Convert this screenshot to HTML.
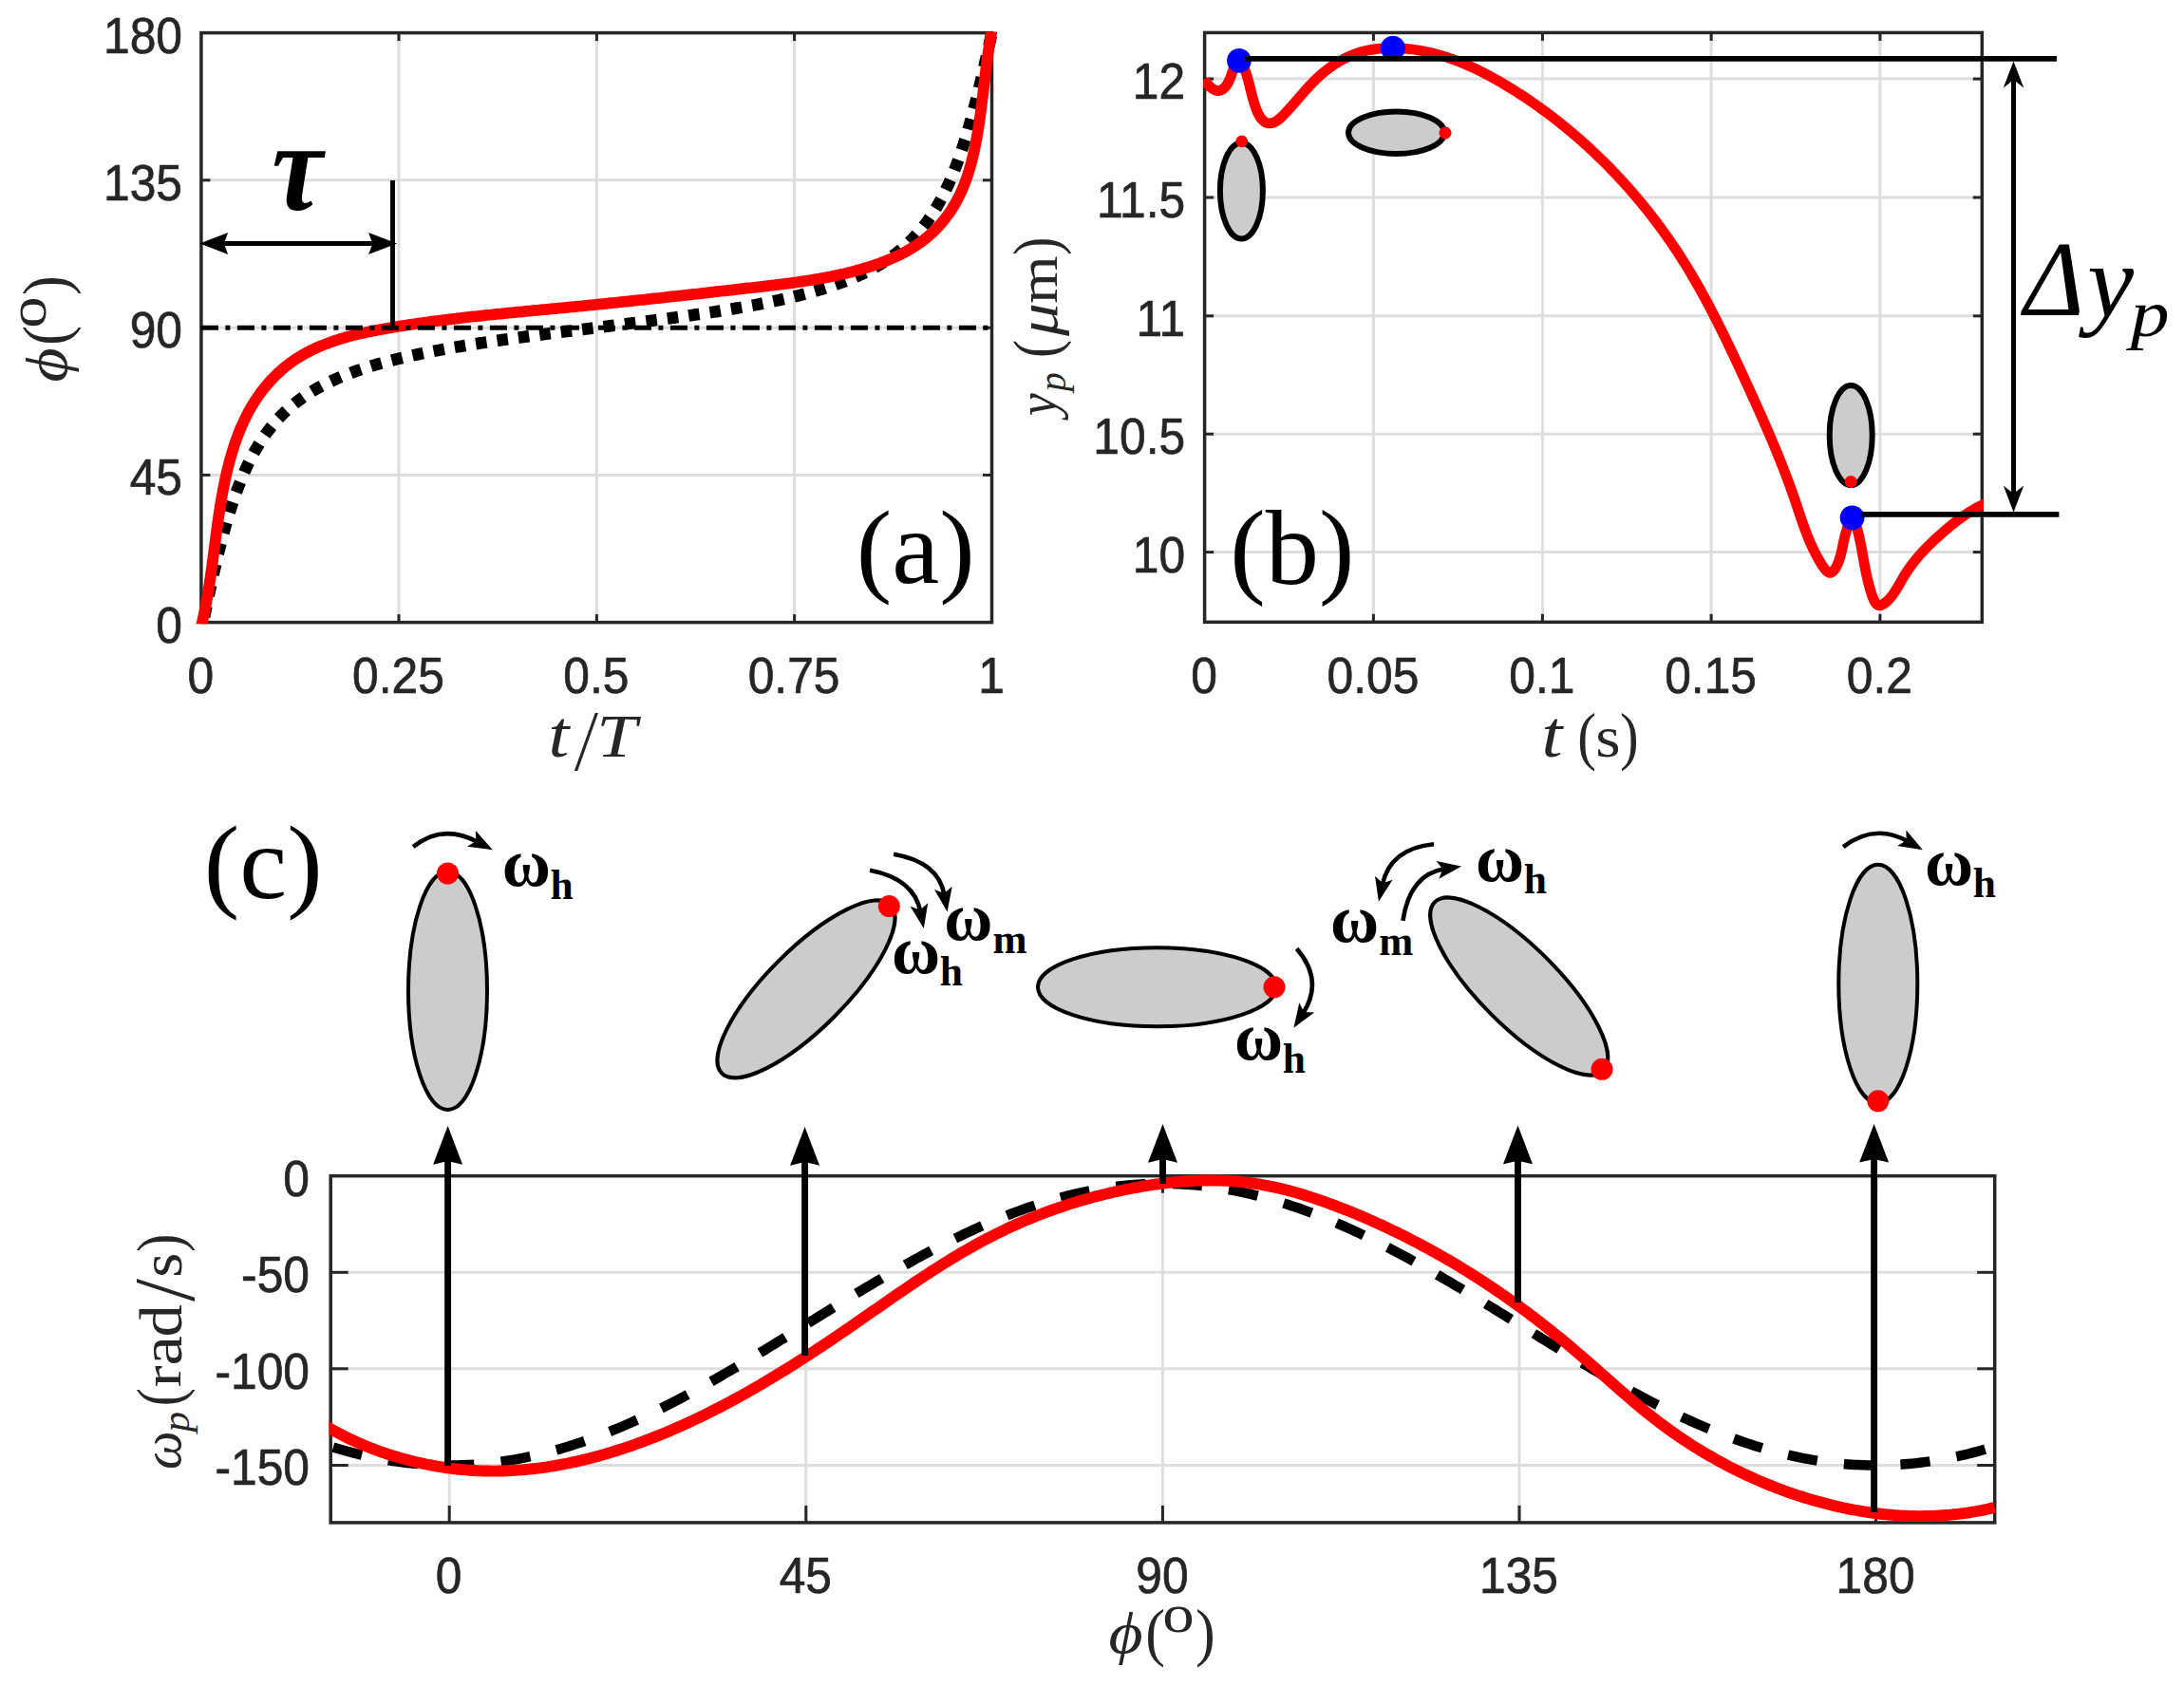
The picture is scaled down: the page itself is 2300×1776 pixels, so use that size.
<!DOCTYPE html>
<html><head><meta charset="utf-8"><title>figure</title>
<style>html,body{margin:0;padding:0;background:#fff}svg{display:block}</style></head>
<body>
<svg width="2300" height="1776" viewBox="0 0 2300 1776">
<rect width="2300" height="1776" fill="#fff"/>
<defs><clipPath id="ca"><rect x="205" y="33.4" width="845.3" height="623.9"/></clipPath><clipPath id="cb"><rect x="1266.9" y="20" width="822.2" height="637"/></clipPath><clipPath id="cc"><rect x="346.5" y="1237" width="1756" height="368.6"/></clipPath></defs>
<!-- plot a -->
<line x1="420" y1="34.6" x2="420" y2="655.6" stroke="#dedede" stroke-width="3" />
<line x1="628.4" y1="34.6" x2="628.4" y2="655.6" stroke="#dedede" stroke-width="3" />
<line x1="836.6" y1="34.6" x2="836.6" y2="655.6" stroke="#dedede" stroke-width="3" />
<line x1="211.9" y1="189.8" x2="1044.5" y2="189.8" stroke="#dedede" stroke-width="3" />
<line x1="211.9" y1="345.3" x2="1044.5" y2="345.3" stroke="#dedede" stroke-width="3" />
<line x1="211.9" y1="500.4" x2="1044.5" y2="500.4" stroke="#dedede" stroke-width="3" />
<line x1="420" y1="655.6" x2="420" y2="647.1" stroke="#262626" stroke-width="3" />
<line x1="420" y1="34.6" x2="420" y2="43.1" stroke="#262626" stroke-width="3" />
<line x1="628.4" y1="655.6" x2="628.4" y2="647.1" stroke="#262626" stroke-width="3" />
<line x1="628.4" y1="34.6" x2="628.4" y2="43.1" stroke="#262626" stroke-width="3" />
<line x1="836.6" y1="655.6" x2="836.6" y2="647.1" stroke="#262626" stroke-width="3" />
<line x1="836.6" y1="34.6" x2="836.6" y2="43.1" stroke="#262626" stroke-width="3" />
<line x1="211.9" y1="189.8" x2="221.4" y2="189.8" stroke="#262626" stroke-width="3" />
<line x1="1044.5" y1="189.8" x2="1035" y2="189.8" stroke="#262626" stroke-width="3" />
<line x1="211.9" y1="345.3" x2="221.4" y2="345.3" stroke="#262626" stroke-width="3" />
<line x1="1044.5" y1="345.3" x2="1035" y2="345.3" stroke="#262626" stroke-width="3" />
<line x1="211.9" y1="500.4" x2="221.4" y2="500.4" stroke="#262626" stroke-width="3" />
<line x1="1044.5" y1="500.4" x2="1035" y2="500.4" stroke="#262626" stroke-width="3" />
<rect x="211.9" y="34.6" width="832.6" height="621" fill="none" stroke="#262626" stroke-width="3.5"/>
<g clip-path="url(#ca)">
<path d="M213.9 655.6 L215.18 649.38 L216.47 643.18 L217.76 636.99 L219.06 630.85 L220.36 624.74 L221.67 618.7 L222.98 612.72 L224.3 606.82 L225.62 601.01 L226.95 595.28 L228.27 589.66 L229.61 584.14 L230.94 578.73 L232.28 573.44 L233.62 568.27 L234.96 563.21 L236.31 558.28 L237.65 553.47 L239 548.79 L240.36 544.23 L241.71 539.8 L243.07 535.49 L244.43 531.3 L245.79 527.23 L247.15 523.28 L248.51 519.45 L249.87 515.73 L251.24 512.12 L252.61 508.62 L253.98 505.22 L255.35 501.92 L256.72 498.73 L258.09 495.63 L259.46 492.62 L260.83 489.71 L262.21 486.88 L263.58 484.13 L264.96 481.47 L266.34 478.89 L267.72 476.38 L269.09 473.95 L270.47 471.58 L271.85 469.29 L273.23 467.06 L274.61 464.89 L275.99 462.79 L277.38 460.74 L278.76 458.75 L280.14 456.82 L281.52 454.94 L282.91 453.11 L284.29 451.33 L285.67 449.59 L287.06 447.9 L288.44 446.26 L289.83 444.66 L291.21 443.1 L292.6 441.57 L293.98 440.09 L295.37 438.64 L296.76 437.23 L298.14 435.85 L299.53 434.51 L300.92 433.2 L302.3 431.92 L303.69 430.67 L305.08 429.44 L306.46 428.25 L307.85 427.08 L309.24 425.94 L310.63 424.82 L312.02 423.73 L313.4 422.66 L314.79 421.62 L316.18 420.59 L317.57 419.59 L318.96 418.61 L320.34 417.65 L321.73 416.7 L323.12 415.78 L324.51 414.88 L325.9 413.99 L327.29 413.12 L328.68 412.27 L330.07 411.43 L331.46 410.61 L332.84 409.81 L334.23 409.01 L335.62 408.24 L337.01 407.48 L338.4 406.73 L339.79 405.99 L341.18 405.27 L342.57 404.56 L343.96 403.86 L345.35 403.18 L346.74 402.5 L348.13 401.84 L349.52 401.19 L350.91 400.55 L352.3 399.91 L353.69 399.29 L355.07 398.68 L356.46 398.08 L357.85 397.49 L359.24 396.91 L360.63 396.33 L362.02 395.77 L363.41 395.21 L364.8 394.66 L366.19 394.12 L367.58 393.58 L368.97 393.06 L370.36 392.54 L371.75 392.03 L373.14 391.53 L374.53 391.03 L375.92 390.54 L377.31 390.06 L378.7 389.58 L380.09 389.11 L381.48 388.64 L382.87 388.19 L384.26 387.73 L385.65 387.29 L387.04 386.84 L388.43 386.41 L389.82 385.98 L391.21 385.55 L392.6 385.13 L393.99 384.72 L395.38 384.31 L396.77 383.9 L398.16 383.5 L399.55 383.11 L400.94 382.71 L402.33 382.33 L403.72 381.95 L405.11 381.57 L406.5 381.19 L407.89 380.82 L409.28 380.46 L410.67 380.09 L412.06 379.74 L413.45 379.38 L414.84 379.03 L416.23 378.68 L417.62 378.34 L419.01 378 L420.4 377.66 L421.79 377.33 L423.18 377 L424.57 376.67 L425.96 376.35 L427.35 376.02 L428.74 375.71 L430.13 375.39 L431.52 375.08 L432.91 374.77 L434.3 374.46 L435.69 374.16 L437.08 373.86 L438.47 373.56 L439.86 373.26 L441.25 372.97 L442.64 372.68 L444.03 372.39 L445.42 372.1 L446.81 371.82 L448.2 371.54 L449.59 371.26 L450.98 370.98 L452.37 370.71 L453.76 370.44 L455.15 370.16 L456.54 369.9 L457.93 369.63 L459.32 369.37 L460.71 369.1 L462.1 368.84 L463.49 368.58 L464.88 368.33 L466.27 368.07 L467.66 367.82 L469.05 367.57 L470.44 367.32 L471.83 367.07 L473.22 366.82 L474.61 366.58 L476 366.34 L477.39 366.09 L478.78 365.85 L480.17 365.62 L481.56 365.38 L482.95 365.14 L484.34 364.91 L485.73 364.68 L487.12 364.44 L488.51 364.21 L489.9 363.99 L491.29 363.76 L492.68 363.53 L494.07 363.31 L495.46 363.09 L496.85 362.86 L498.24 362.64 L499.63 362.42 L501.02 362.2 L502.41 361.99 L503.8 361.77 L505.19 361.56 L506.58 361.34 L507.97 361.13 L509.36 360.92 L510.75 360.71 L512.14 360.5 L513.53 360.29 L514.92 360.08 L516.31 359.87 L517.7 359.67 L519.09 359.46 L520.48 359.26 L521.87 359.05 L523.26 358.85 L524.65 358.65 L526.04 358.45 L527.43 358.25 L528.82 358.05 L530.21 357.85 L531.6 357.65 L532.99 357.46 L534.38 357.26 L535.77 357.07 L537.16 356.87 L538.55 356.68 L539.94 356.48 L541.33 356.29 L542.72 356.1 L544.11 355.91 L545.5 355.72 L546.89 355.53 L548.28 355.34 L549.67 355.15 L551.06 354.96 L552.45 354.77 L553.84 354.59 L555.23 354.4 L556.62 354.22 L558.01 354.03 L559.4 353.84 L560.79 353.66 L562.18 353.48 L563.57 353.29 L564.96 353.11 L566.35 352.93 L567.74 352.75 L569.13 352.56 L570.52 352.38 L571.91 352.2 L573.3 352.02 L574.69 351.84 L576.08 351.66 L577.47 351.48 L578.86 351.3 L580.25 351.13 L581.64 350.95 L583.03 350.77 L584.42 350.59 L585.81 350.41 L587.2 350.24 L588.59 350.06 L589.98 349.88 L591.37 349.71 L592.76 349.53 L594.15 349.36 L595.54 349.18 L596.93 349.01 L598.32 348.83 L599.71 348.66 L601.1 348.48 L602.49 348.31 L603.88 348.13 L605.27 347.96 L606.66 347.78 L608.05 347.61 L609.44 347.44 L610.83 347.26 L612.22 347.09 L613.61 346.92 L615 346.74 L616.39 346.57 L617.78 346.4 L619.17 346.22 L620.56 346.05 L621.95 345.88 L623.34 345.7 L624.73 345.53 L626.12 345.36 L627.51 345.19 L628.89 345.01 L630.28 344.84 L631.67 344.67 L633.06 344.5 L634.45 344.32 L635.84 344.15 L637.23 343.98 L638.62 343.8 L640.01 343.63 L641.4 343.46 L642.79 343.28 L644.18 343.11 L645.57 342.94 L646.96 342.76 L648.35 342.59 L649.74 342.42 L651.13 342.24 L652.52 342.07 L653.91 341.89 L655.3 341.72 L656.69 341.54 L658.08 341.37 L659.47 341.19 L660.86 341.02 L662.25 340.84 L663.64 340.67 L665.03 340.49 L666.42 340.32 L667.81 340.14 L669.2 339.96 L670.59 339.79 L671.98 339.61 L673.37 339.43 L674.76 339.25 L676.15 339.07 L677.54 338.9 L678.93 338.72 L680.32 338.54 L681.71 338.36 L683.1 338.18 L684.49 338 L685.88 337.82 L687.27 337.64 L688.66 337.45 L690.05 337.27 L691.44 337.09 L692.83 336.91 L694.22 336.72 L695.61 336.54 L697 336.36 L698.39 336.17 L699.78 335.98 L701.17 335.8 L702.56 335.61 L703.95 335.43 L705.34 335.24 L706.73 335.05 L708.12 334.86 L709.51 334.67 L710.9 334.48 L712.29 334.29 L713.68 334.1 L715.07 333.91 L716.46 333.72 L717.85 333.52 L719.24 333.33 L720.63 333.13 L722.02 332.94 L723.41 332.74 L724.8 332.55 L726.19 332.35 L727.58 332.15 L728.97 331.95 L730.36 331.75 L731.75 331.55 L733.14 331.35 L734.53 331.15 L735.92 330.94 L737.31 330.74 L738.7 330.53 L740.09 330.33 L741.48 330.12 L742.87 329.91 L744.26 329.7 L745.65 329.49 L747.04 329.28 L748.43 329.07 L749.82 328.86 L751.21 328.64 L752.6 328.43 L753.99 328.21 L755.38 328 L756.77 327.78 L758.16 327.56 L759.55 327.34 L760.94 327.11 L762.33 326.89 L763.72 326.67 L765.11 326.44 L766.5 326.21 L767.89 325.99 L769.28 325.76 L770.67 325.52 L772.06 325.29 L773.45 325.06 L774.84 324.82 L776.23 324.58 L777.62 324.35 L779.01 324.11 L780.4 323.86 L781.79 323.62 L783.18 323.38 L784.57 323.13 L785.96 322.88 L787.35 322.63 L788.74 322.38 L790.13 322.13 L791.52 321.87 L792.91 321.62 L794.3 321.36 L795.69 321.1 L797.08 320.83 L798.47 320.57 L799.86 320.3 L801.25 320.04 L802.64 319.76 L804.03 319.49 L805.42 319.22 L806.81 318.94 L808.2 318.66 L809.59 318.38 L810.98 318.1 L812.37 317.81 L813.76 317.52 L815.15 317.23 L816.54 316.94 L817.93 316.64 L819.32 316.34 L820.71 316.04 L822.1 315.74 L823.49 315.43 L824.88 315.12 L826.27 314.81 L827.66 314.49 L829.05 314.18 L830.44 313.85 L831.83 313.53 L833.22 313.2 L834.61 312.87 L836 312.54 L837.39 312.2 L838.78 311.86 L840.17 311.52 L841.56 311.17 L842.95 310.82 L844.34 310.46 L845.73 310.11 L847.12 309.74 L848.51 309.38 L849.9 309.01 L851.29 308.63 L852.68 308.25 L854.07 307.87 L855.46 307.49 L856.85 307.09 L858.24 306.7 L859.63 306.3 L861.02 305.89 L862.41 305.48 L863.8 305.07 L865.19 304.65 L866.58 304.22 L867.97 303.79 L869.36 303.36 L870.75 302.91 L872.14 302.47 L873.53 302.01 L874.92 301.56 L876.31 301.09 L877.7 300.62 L879.09 300.14 L880.48 299.66 L881.87 299.17 L883.26 298.67 L884.65 298.17 L886.04 297.66 L887.43 297.14 L888.82 296.62 L890.21 296.08 L891.6 295.54 L892.99 294.99 L894.38 294.43 L895.77 293.87 L897.16 293.29 L898.55 292.71 L899.94 292.12 L901.33 291.52 L902.72 290.91 L904.11 290.29 L905.5 289.65 L906.89 289.01 L908.28 288.36 L909.67 287.7 L911.06 287.02 L912.45 286.34 L913.84 285.64 L915.23 284.93 L916.62 284.21 L918.01 283.47 L919.4 282.72 L920.79 281.96 L922.18 281.19 L923.57 280.39 L924.96 279.59 L926.35 278.77 L927.74 277.93 L929.13 277.08 L930.52 276.21 L931.91 275.32 L933.3 274.42 L934.69 273.5 L936.08 272.55 L937.47 271.59 L938.86 270.61 L940.25 269.61 L941.64 268.58 L943.03 267.54 L944.42 266.47 L945.81 265.38 L947.2 264.26 L948.59 263.12 L949.98 261.95 L951.37 260.76 L952.76 259.53 L954.15 258.28 L955.54 257 L956.93 255.69 L958.32 254.35 L959.71 252.97 L961.1 251.56 L962.49 250.11 L963.88 248.63 L965.27 247.1 L966.66 245.54 L968.05 243.94 L969.44 242.3 L970.83 240.61 L972.22 238.87 L973.61 237.09 L975 235.26 L976.39 233.38 L977.78 231.45 L979.17 229.46 L980.56 227.41 L981.95 225.31 L983.34 223.14 L984.73 220.91 L986.12 218.62 L987.51 216.25 L988.9 213.82 L990.29 211.31 L991.68 208.73 L993.07 206.07 L994.46 203.32 L995.85 200.49 L997.24 197.58 L998.63 194.57 L1000.02 191.47 L1001.41 188.28 L1002.8 184.98 L1004.19 181.58 L1005.58 178.08 L1006.97 174.47 L1008.36 170.75 L1009.75 166.92 L1011.14 162.97 L1012.53 158.9 L1013.92 154.71 L1015.31 150.4 L1016.7 145.97 L1018.09 141.41 L1019.48 136.73 L1020.87 131.92 L1022.26 126.99 L1023.65 121.93 L1025.04 116.76 L1026.43 111.47 L1027.82 106.06 L1029.21 100.54 L1030.6 94.92 L1031.99 89.19 L1033.38 83.38 L1034.77 77.48 L1036.16 71.5 L1037.55 65.46 L1038.94 59.35 L1040.33 53.21 L1041.72 47.02 L1043.11 40.82 L1044.5 34.6" fill="none" stroke="#000" stroke-width="12.6" stroke-dasharray="11.5 11.1" stroke-dashoffset="-6"/>
<path d="M210.58 664.94 L211.1 662.92 L211.61 660.9 L212.11 658.88 L212.59 656.85 L213.07 654.83 L213.53 652.81 L213.98 650.78 L214.43 648.75 L214.86 646.73 L215.28 644.7 L215.7 642.67 L216.1 640.64 L216.5 638.61 L216.89 636.58 L217.27 634.55 L217.64 632.52 L218.01 630.49 L218.36 628.45 L218.71 626.42 L219.06 624.39 L219.4 622.35 L219.73 620.32 L220.05 618.28 L220.37 616.25 L220.68 614.21 L220.99 612.17 L221.3 610.14 L221.6 608.1 L221.89 606.06 L222.18 604.02 L222.47 601.98 L222.75 599.94 L223.04 597.9 L223.31 595.86 L223.59 593.82 L223.86 591.78 L224.13 589.74 L224.4 587.7 L224.67 585.66 L224.94 583.62 L225.2 581.57 L225.47 579.53 L225.73 577.49 L226 575.45 L226.26 573.4 L226.53 571.36 L226.8 569.32 L227.06 567.27 L227.33 565.23 L227.6 563.18 L227.87 561.14 L228.15 559.1 L228.43 557.05 L228.71 555.01 L228.99 552.96 L229.27 550.92 L229.56 548.87 L229.86 546.83 L230.15 544.78 L230.46 542.74 L230.76 540.69 L231.08 538.65 L231.39 536.6 L231.71 534.56 L232.04 532.52 L232.38 530.47 L232.72 528.43 L233.06 526.38 L233.42 524.34 L233.78 522.29 L234.15 520.25 L234.53 518.21 L234.91 516.16 L235.3 514.12 L235.71 512.08 L236.12 510.03 L236.54 507.99 L236.97 505.95 L237.4 503.9 L237.85 501.86 L238.31 499.82 L238.78 497.78 L239.26 495.74 L239.76 493.7 L240.26 491.66 L240.77 489.62 L241.3 487.59 L241.84 485.56 L242.39 483.53 L242.96 481.5 L243.54 479.48 L244.13 477.46 L244.73 475.45 L245.35 473.44 L245.99 471.44 L246.64 469.44 L247.3 467.45 L247.98 465.47 L248.67 463.49 L249.38 461.52 L250.11 459.55 L250.85 457.59 L251.61 455.65 L252.39 453.71 L253.18 451.78 L253.99 449.85 L254.82 447.94 L255.67 446.04 L256.54 444.15 L257.42 442.27 L258.33 440.4 L259.25 438.54 L260.2 436.69 L261.16 434.86 L262.14 433.04 L263.15 431.23 L264.17 429.44 L265.22 427.65 L266.29 425.89 L267.37 424.13 L268.48 422.4 L269.61 420.67 L270.76 418.97 L271.93 417.27 L273.12 415.6 L274.33 413.94 L275.56 412.3 L276.81 410.67 L278.07 409.07 L279.36 407.48 L280.67 405.91 L281.99 404.35 L283.34 402.82 L284.7 401.31 L286.08 399.81 L287.48 398.34 L288.9 396.89 L290.34 395.45 L291.8 394.04 L293.27 392.65 L294.76 391.29 L296.27 389.94 L297.8 388.62 L299.34 387.32 L300.9 386.04 L302.48 384.79 L304.07 383.56 L305.69 382.35 L307.31 381.17 L308.96 380.02 L310.62 378.89 L312.3 377.78 L313.99 376.7 L315.7 375.64 L317.42 374.61 L319.16 373.6 L320.91 372.61 L322.68 371.64 L324.46 370.7 L326.26 369.77 L328.06 368.87 L329.88 367.99 L331.72 367.13 L333.56 366.29 L335.42 365.47 L337.29 364.66 L339.17 363.88 L341.06 363.12 L342.96 362.37 L344.87 361.64 L346.8 360.93 L348.73 360.23 L350.67 359.56 L352.62 358.9 L354.58 358.25 L356.55 357.62 L358.53 357 L360.51 356.4 L362.5 355.82 L364.5 355.25 L366.51 354.69 L368.53 354.15 L370.55 353.61 L372.57 353.09 L374.6 352.59 L376.64 352.09 L378.68 351.61 L380.73 351.14 L382.78 350.68 L384.84 350.22 L386.9 349.78 L388.97 349.35 L391.03 348.93 L393.1 348.52 L395.18 348.11 L397.25 347.71 L399.33 347.33 L401.41 346.94 L403.49 346.57 L405.58 346.2 L407.66 345.84 L409.74 345.48 L411.83 345.13 L413.91 344.79 L416 344.45 L418.08 344.11 L420.16 343.78 L422.24 343.45 L424.32 343.13 L426.4 342.81 L428.48 342.49 L430.56 342.18 L432.63 341.87 L434.71 341.56 L436.78 341.26 L438.85 340.96 L440.93 340.66 L443 340.37 L445.07 340.08 L447.13 339.79 L449.2 339.51 L451.27 339.23 L453.33 338.95 L455.4 338.67 L457.46 338.4 L459.53 338.13 L461.59 337.87 L463.65 337.6 L465.71 337.34 L467.77 337.08 L469.83 336.83 L471.89 336.57 L473.95 336.32 L476 336.07 L478.06 335.83 L480.11 335.59 L482.17 335.34 L484.22 335.1 L486.28 334.87 L488.33 334.63 L490.38 334.4 L492.43 334.17 L494.49 333.94 L496.54 333.71 L498.59 333.49 L500.64 333.27 L502.69 333.04 L504.74 332.82 L506.78 332.61 L508.83 332.39 L510.88 332.17 L512.93 331.96 L514.97 331.75 L517.02 331.54 L519.07 331.33 L521.11 331.12 L523.16 330.92 L525.2 330.71 L527.25 330.51 L529.29 330.3 L531.34 330.1 L533.38 329.9 L535.42 329.7 L537.47 329.5 L539.51 329.3 L541.56 329.1 L543.6 328.91 L545.64 328.71 L547.69 328.52 L549.73 328.32 L551.77 328.13 L553.81 327.93 L555.86 327.74 L557.9 327.55 L559.94 327.35 L561.99 327.16 L564.03 326.97 L566.07 326.78 L568.12 326.58 L570.16 326.39 L572.2 326.2 L574.25 326.01 L576.29 325.82 L578.34 325.63 L580.38 325.43 L582.43 325.24 L584.47 325.05 L586.52 324.86 L588.56 324.66 L590.61 324.47 L592.65 324.27 L594.7 324.08 L596.75 323.88 L598.79 323.69 L600.84 323.49 L602.89 323.3 L604.94 323.1 L606.98 322.9 L609.03 322.7 L611.08 322.5 L613.13 322.3 L615.18 322.1 L617.23 321.9 L619.28 321.69 L621.33 321.49 L623.39 321.29 L625.44 321.08 L627.49 320.88 L629.54 320.67 L631.59 320.46 L633.65 320.26 L635.7 320.05 L637.75 319.84 L639.81 319.63 L641.86 319.42 L643.92 319.21 L645.97 319 L648.03 318.79 L650.08 318.58 L652.14 318.37 L654.19 318.16 L656.25 317.94 L658.31 317.73 L660.36 317.52 L662.42 317.3 L664.48 317.09 L666.53 316.87 L668.59 316.66 L670.65 316.44 L672.71 316.22 L674.76 316 L676.82 315.79 L678.88 315.57 L680.94 315.35 L683 315.13 L685.06 314.91 L687.12 314.69 L689.18 314.47 L691.23 314.25 L693.29 314.02 L695.35 313.8 L697.41 313.58 L699.47 313.36 L701.53 313.13 L703.59 312.91 L705.65 312.69 L707.72 312.46 L709.78 312.24 L711.84 312.01 L713.9 311.79 L715.96 311.56 L718.02 311.33 L720.08 311.11 L722.14 310.88 L724.2 310.65 L726.26 310.43 L728.33 310.2 L730.39 309.97 L732.45 309.74 L734.51 309.51 L736.57 309.28 L738.63 309.05 L740.7 308.82 L742.76 308.59 L744.82 308.36 L746.88 308.13 L748.94 307.9 L751 307.67 L753.07 307.44 L755.13 307.21 L757.19 306.98 L759.25 306.75 L761.31 306.51 L763.37 306.28 L765.44 306.05 L767.5 305.81 L769.56 305.58 L771.62 305.35 L773.68 305.12 L775.74 304.88 L777.81 304.65 L779.87 304.41 L781.93 304.18 L783.99 303.95 L786.05 303.71 L788.11 303.48 L790.17 303.24 L792.23 303.01 L794.29 302.77 L796.35 302.54 L798.41 302.3 L800.47 302.07 L802.53 301.83 L804.59 301.59 L806.65 301.36 L808.71 301.12 L810.77 300.88 L812.83 300.63 L814.89 300.39 L816.95 300.14 L819 299.89 L821.06 299.64 L823.12 299.39 L825.17 299.13 L827.23 298.87 L829.29 298.61 L831.34 298.34 L833.39 298.07 L835.45 297.79 L837.5 297.51 L839.55 297.22 L841.6 296.93 L843.65 296.64 L845.7 296.34 L847.75 296.03 L849.8 295.72 L851.85 295.4 L853.89 295.08 L855.94 294.75 L857.98 294.41 L860.02 294.06 L862.07 293.71 L864.11 293.35 L866.15 292.99 L868.19 292.61 L870.22 292.23 L872.26 291.84 L874.3 291.44 L876.33 291.03 L878.36 290.61 L880.39 290.19 L882.42 289.75 L884.45 289.3 L886.48 288.85 L888.51 288.38 L890.53 287.9 L892.55 287.42 L894.58 286.92 L896.6 286.41 L898.61 285.89 L900.63 285.36 L902.65 284.81 L904.66 284.26 L906.67 283.69 L908.68 283.11 L910.69 282.52 L912.69 281.91 L914.7 281.29 L916.69 280.65 L918.69 280.01 L920.67 279.34 L922.66 278.67 L924.63 277.97 L926.6 277.26 L928.57 276.54 L930.52 275.8 L932.47 275.04 L934.4 274.26 L936.33 273.47 L938.25 272.66 L940.15 271.83 L942.05 270.98 L943.93 270.12 L945.8 269.23 L947.66 268.33 L949.51 267.4 L951.34 266.45 L953.15 265.49 L954.95 264.5 L956.74 263.49 L958.51 262.46 L960.26 261.41 L961.99 260.33 L963.71 259.23 L965.41 258.11 L967.09 256.96 L968.74 255.79 L970.38 254.6 L972 253.38 L973.6 252.14 L975.17 250.87 L976.73 249.58 L978.26 248.26 L979.77 246.93 L981.26 245.57 L982.73 244.18 L984.17 242.78 L985.6 241.35 L987 239.9 L988.37 238.43 L989.73 236.93 L991.06 235.42 L992.37 233.88 L993.65 232.33 L994.91 230.76 L996.15 229.16 L997.36 227.55 L998.55 225.92 L999.72 224.26 L1000.86 222.59 L1001.98 220.91 L1003.07 219.2 L1004.14 217.48 L1005.18 215.74 L1006.19 213.98 L1007.19 212.2 L1008.15 210.41 L1009.09 208.61 L1010.01 206.79 L1010.9 204.95 L1011.77 203.1 L1012.61 201.23 L1013.43 199.35 L1014.23 197.46 L1015 195.55 L1015.76 193.64 L1016.49 191.71 L1017.2 189.77 L1017.89 187.81 L1018.57 185.85 L1019.22 183.88 L1019.85 181.9 L1020.47 179.91 L1021.07 177.91 L1021.65 175.9 L1022.21 173.88 L1022.76 171.86 L1023.29 169.83 L1023.81 167.79 L1024.31 165.75 L1024.8 163.7 L1025.27 161.65 L1025.73 159.59 L1026.17 157.53 L1026.61 155.47 L1027.03 153.4 L1027.44 151.33 L1027.84 149.26 L1028.23 147.18 L1028.6 145.11 L1028.97 143.03 L1029.33 140.95 L1029.68 138.87 L1030.02 136.79 L1030.36 134.72 L1030.68 132.64 L1031 130.56 L1031.31 128.48 L1031.62 126.4 L1031.92 124.32 L1032.21 122.24 L1032.5 120.16 L1032.78 118.09 L1033.05 116.01 L1033.32 113.93 L1033.59 111.86 L1033.86 109.78 L1034.12 107.71 L1034.37 105.63 L1034.63 103.56 L1034.88 101.49 L1035.13 99.42 L1035.38 97.35 L1035.63 95.28 L1035.87 93.22 L1036.12 91.15 L1036.36 89.09 L1036.61 87.03 L1036.86 84.97 L1037.1 82.91 L1037.35 80.85 L1037.6 78.8 L1037.85 76.74 L1038.1 74.69 L1038.36 72.65 L1038.62 70.6 L1038.88 68.56 L1039.15 66.52 L1039.42 64.48 L1039.7 62.44 L1039.98 60.41 L1040.26 58.38 L1040.55 56.35 L1040.85 54.32 L1041.15 52.3 L1041.46 50.28 L1041.77 48.27 L1042.1 46.25 L1042.43 44.24 L1042.77 42.24 L1043.12 40.23 L1043.47 38.24 L1043.84 36.24 L1044.21 34.25 L1044.6 32.26 L1044.99 30.28 L1045.4 28.3 L1045.81 26.32 L1046.24 24.35" fill="none" stroke="#fe0000" stroke-width="11.8" stroke-linejoin="round"/>
</g>
<line x1="211.9" y1="345.3" x2="1044.5" y2="345.3" stroke="#000" stroke-width="5" stroke-dasharray="18 7.5 5 7.5"/>
<line x1="413.5" y1="190" x2="413.5" y2="345.3" stroke="#000" stroke-width="4.9" />
<line x1="222" y1="256.5" x2="408" y2="256.5" stroke="#000" stroke-width="4.8" />
<path d="M210.4 256.5 L240.1 245 L235.94 256.5 L240.1 268 Z" fill="#000"/>
<path d="M418.1 256.5 L388.1 268 L392.3 256.5 L388.1 245 Z" fill="#000"/>
<text transform="translate(286.32 220.9) scale(0.91 1)" font-family="'Liberation Serif', serif" font-weight="bold" font-style="italic" font-size="132.69" fill="#000" text-anchor="start">τ</text>
<text transform="translate(901.78 614.42) scale(1.02 1)" font-family="'Liberation Serif', serif" font-size="110.29" fill="#000" text-anchor="start">(a)</text>
<text transform="translate(211.4 730) scale(0.93 1)" font-family="'Liberation Sans', sans-serif" font-size="53.5" fill="#262626" stroke="#262626" stroke-width="0.7" text-anchor="middle">0</text>
<text transform="translate(419.5 730) scale(0.93 1)" font-family="'Liberation Sans', sans-serif" font-size="53.5" fill="#262626" stroke="#262626" stroke-width="0.7" text-anchor="middle">0.25</text>
<text transform="translate(627.9 730) scale(0.93 1)" font-family="'Liberation Sans', sans-serif" font-size="53.5" fill="#262626" stroke="#262626" stroke-width="0.7" text-anchor="middle">0.5</text>
<text transform="translate(836.1 730) scale(0.93 1)" font-family="'Liberation Sans', sans-serif" font-size="53.5" fill="#262626" stroke="#262626" stroke-width="0.7" text-anchor="middle">0.75</text>
<text transform="translate(1044 730) scale(0.93 1)" font-family="'Liberation Sans', sans-serif" font-size="53.5" fill="#262626" stroke="#262626" stroke-width="0.7" text-anchor="middle">1</text>
<text transform="translate(192 676.5) scale(0.93 1)" font-family="'Liberation Sans', sans-serif" font-size="53.5" fill="#262626" stroke="#262626" stroke-width="0.7" text-anchor="end">0</text>
<text transform="translate(192 521.3) scale(0.93 1)" font-family="'Liberation Sans', sans-serif" font-size="53.5" fill="#262626" stroke="#262626" stroke-width="0.7" text-anchor="end">45</text>
<text transform="translate(192 366.2) scale(0.93 1)" font-family="'Liberation Sans', sans-serif" font-size="53.5" fill="#262626" stroke="#262626" stroke-width="0.7" text-anchor="end">90</text>
<text transform="translate(192 210.7) scale(0.93 1)" font-family="'Liberation Sans', sans-serif" font-size="53.5" fill="#262626" stroke="#262626" stroke-width="0.7" text-anchor="end">135</text>
<text transform="translate(192 55.5) scale(0.93 1)" font-family="'Liberation Sans', sans-serif" font-size="53.5" fill="#262626" stroke="#262626" stroke-width="0.7" text-anchor="end">180</text>
<text transform="translate(577.54 797.22) scale(1.13 1)" font-family="'Liberation Serif', serif" font-style="italic" font-size="69.84" fill="#262626" text-anchor="start">t</text>
<text transform="translate(607.77 811.11) scale(0.69 1)" font-family="'Liberation Serif', serif" font-style="italic" font-size="91.19" fill="#262626" text-anchor="start">/</text>
<text transform="translate(628.23 796.8) scale(1.19 1)" font-family="'Liberation Serif', serif" font-style="italic" font-size="63.99" fill="#262626" text-anchor="start">T</text>
<g transform="translate(53.9 346.9) rotate(-90)">
<text transform="translate(-55.61 16.09) scale(1.15 1)" font-family="'Liberation Serif', serif" font-style="italic" font-size="60.66" fill="#262626" text-anchor="start">ϕ</text>
<text transform="translate(-16.74 17.44) scale(0.91 1)" font-family="'Liberation Serif', serif" font-size="68.38" fill="#262626" text-anchor="start">(</text>
<text transform="translate(1.16 -5.55) scale(1.19 1)" font-family="'Liberation Serif', serif" font-size="56.14" fill="#262626" text-anchor="start">o</text>
<text transform="translate(35.99 17.44) scale(0.91 1)" font-family="'Liberation Serif', serif" font-size="68.38" fill="#262626" text-anchor="start">)</text>
</g>
<!-- plot b -->
<line x1="1446.4" y1="34.4" x2="1446.4" y2="655.3" stroke="#dedede" stroke-width="3" />
<line x1="1624.4" y1="34.4" x2="1624.4" y2="655.3" stroke="#dedede" stroke-width="3" />
<line x1="1802.1" y1="34.4" x2="1802.1" y2="655.3" stroke="#dedede" stroke-width="3" />
<line x1="1979.9" y1="34.4" x2="1979.9" y2="655.3" stroke="#dedede" stroke-width="3" />
<line x1="1268.6" y1="83.1" x2="2087.3" y2="83.1" stroke="#dedede" stroke-width="3" />
<line x1="1268.6" y1="208" x2="2087.3" y2="208" stroke="#dedede" stroke-width="3" />
<line x1="1268.6" y1="332.8" x2="2087.3" y2="332.8" stroke="#dedede" stroke-width="3" />
<line x1="1268.6" y1="457.2" x2="2087.3" y2="457.2" stroke="#dedede" stroke-width="3" />
<line x1="1268.6" y1="581.6" x2="2087.3" y2="581.6" stroke="#dedede" stroke-width="3" />
<line x1="1446.4" y1="655.3" x2="1446.4" y2="646.8" stroke="#262626" stroke-width="3" />
<line x1="1446.4" y1="34.4" x2="1446.4" y2="42.9" stroke="#262626" stroke-width="3" />
<line x1="1624.4" y1="655.3" x2="1624.4" y2="646.8" stroke="#262626" stroke-width="3" />
<line x1="1624.4" y1="34.4" x2="1624.4" y2="42.9" stroke="#262626" stroke-width="3" />
<line x1="1802.1" y1="655.3" x2="1802.1" y2="646.8" stroke="#262626" stroke-width="3" />
<line x1="1802.1" y1="34.4" x2="1802.1" y2="42.9" stroke="#262626" stroke-width="3" />
<line x1="1979.9" y1="655.3" x2="1979.9" y2="646.8" stroke="#262626" stroke-width="3" />
<line x1="1979.9" y1="34.4" x2="1979.9" y2="42.9" stroke="#262626" stroke-width="3" />
<line x1="1268.6" y1="83.1" x2="1278.1" y2="83.1" stroke="#262626" stroke-width="3" />
<line x1="2087.3" y1="83.1" x2="2077.8" y2="83.1" stroke="#262626" stroke-width="3" />
<line x1="1268.6" y1="208" x2="1278.1" y2="208" stroke="#262626" stroke-width="3" />
<line x1="2087.3" y1="208" x2="2077.8" y2="208" stroke="#262626" stroke-width="3" />
<line x1="1268.6" y1="332.8" x2="1278.1" y2="332.8" stroke="#262626" stroke-width="3" />
<line x1="2087.3" y1="332.8" x2="2077.8" y2="332.8" stroke="#262626" stroke-width="3" />
<line x1="1268.6" y1="457.2" x2="1278.1" y2="457.2" stroke="#262626" stroke-width="3" />
<line x1="2087.3" y1="457.2" x2="2077.8" y2="457.2" stroke="#262626" stroke-width="3" />
<line x1="1268.6" y1="581.6" x2="1278.1" y2="581.6" stroke="#262626" stroke-width="3" />
<line x1="2087.3" y1="581.6" x2="2077.8" y2="581.6" stroke="#262626" stroke-width="3" />
<rect x="1268.6" y="34.4" width="818.7" height="620.9" fill="none" stroke="#262626" stroke-width="3.5"/>
<g clip-path="url(#cb)">
<path d="M1268.6 83.22 L1268.98 84.14 L1269.43 85.08 L1269.94 86.02 L1270.52 86.96 L1271.16 87.89 L1271.86 88.81 L1272.6 89.7 L1273.38 90.55 L1274.21 91.37 L1275.06 92.13 L1275.95 92.84 L1276.86 93.48 L1277.78 94.05 L1278.73 94.54 L1279.67 94.95 L1280.63 95.25 L1281.58 95.45 L1282.52 95.54 L1283.46 95.51 L1284.37 95.36 L1285.27 95.11 L1286.14 94.76 L1286.99 94.32 L1287.8 93.81 L1288.58 93.24 L1289.31 92.6 L1290.01 91.91 L1290.67 91.17 L1291.3 90.38 L1291.89 89.55 L1292.46 88.68 L1292.99 87.78 L1293.51 86.84 L1293.99 85.86 L1294.46 84.86 L1294.91 83.84 L1295.34 82.8 L1295.75 81.74 L1296.15 80.66 L1296.55 79.57 L1296.93 78.48 L1297.31 77.38 L1297.68 76.28 L1298.05 75.18 L1298.43 74.09 L1298.8 73.01 L1299.18 71.93 L1299.57 70.88 L1299.97 69.84 L1300.37 68.82 L1300.79 67.83 L1301.23 66.87 L1301.68 65.94 L1302.16 65.04 L1302.65 64.19 L1303.17 63.37 L1303.72 62.6 L1304.3 61.87 L1304.9 61.2 L1304.87 61.03 L1305.86 62.74 L1306.79 64.42 L1307.66 66.1 L1308.47 67.76 L1309.24 69.4 L1309.95 71.04 L1310.62 72.66 L1311.25 74.28 L1311.84 75.9 L1312.39 77.51 L1312.92 79.12 L1313.41 80.73 L1313.89 82.34 L1314.34 83.96 L1314.78 85.58 L1315.21 87.21 L1315.62 88.85 L1316.04 90.5 L1316.44 92.16 L1316.86 93.84 L1317.27 95.54 L1317.7 97.26 L1318.14 98.99 L1318.59 100.75 L1319.07 102.53 L1319.56 104.34 L1320.09 106.18 L1320.64 108.05 L1321.23 109.94 L1321.86 111.85 L1322.53 113.75 L1323.23 115.62 L1323.99 117.45 L1324.79 119.23 L1325.65 120.92 L1326.56 122.52 L1327.53 124.01 L1328.56 125.37 L1329.66 126.57 L1330.82 127.62 L1332.05 128.47 L1333.35 129.13 L1334.72 129.58 L1336.13 129.83 L1337.59 129.87 L1339.06 129.71 L1340.54 129.35 L1342.01 128.79 L1343.47 128.05 L1344.9 127.13 L1346.3 126.07 L1347.69 124.9 L1349.05 123.65 L1350.4 122.34 L1351.72 121.01 L1353.03 119.67 L1354.32 118.32 L1355.59 116.97 L1356.85 115.61 L1358.09 114.24 L1359.32 112.88 L1360.54 111.51 L1361.75 110.14 L1362.96 108.77 L1364.15 107.4 L1365.34 106.03 L1366.52 104.66 L1367.7 103.29 L1368.88 101.93 L1370.05 100.57 L1371.23 99.22 L1372.4 97.87 L1373.58 96.53 L1374.76 95.19 L1375.95 93.87 L1377.14 92.55 L1378.34 91.24 L1379.54 89.94 L1380.76 88.66 L1381.99 87.38 L1383.23 86.12 L1384.48 84.87 L1385.75 83.64 L1387.02 82.42 L1388.31 81.21 L1389.62 80.03 L1390.94 78.85 L1392.27 77.7 L1393.61 76.56 L1394.97 75.44 L1396.34 74.34 L1397.72 73.25 L1399.12 72.19 L1400.53 71.15 L1401.96 70.12 L1403.4 69.12 L1404.85 68.14 L1406.31 67.18 L1407.79 66.24 L1409.28 65.33 L1410.79 64.44 L1412.31 63.57 L1413.84 62.73 L1415.39 61.92 L1416.95 61.12 L1418.52 60.36 L1420.11 59.62 L1421.71 58.91 L1423.33 58.23 L1424.95 57.57 L1426.6 56.94 L1428.26 56.35 L1429.93 55.78 L1431.61 55.24 L1433.31 54.73 L1435.02 54.26 L1436.75 53.81 L1438.49 53.4 L1440.25 53.02 L1442.02 52.68 L1443.8 52.36 L1445.59 52.07 L1447.39 51.81 L1449.19 51.59 L1451 51.38 L1452.82 51.21 L1454.65 51.06 L1456.47 50.93 L1458.3 50.83 L1460.13 50.76 L1461.96 50.7 L1463.78 50.67 L1465.61 50.66 L1467.43 50.67 L1469.24 50.7 L1471.05 50.74 L1472.85 50.81 L1474.65 50.9 L1476.45 51 L1478.24 51.12 L1480.02 51.26 L1481.8 51.42 L1483.58 51.6 L1485.35 51.79 L1487.12 52.01 L1488.88 52.24 L1490.63 52.48 L1492.39 52.75 L1494.13 53.03 L1495.88 53.32 L1497.61 53.64 L1499.35 53.96 L1501.08 54.31 L1502.8 54.67 L1504.52 55.05 L1506.23 55.44 L1507.95 55.85 L1509.65 56.27 L1511.35 56.71 L1513.05 57.16 L1514.74 57.62 L1516.43 58.1 L1518.12 58.6 L1519.8 59.11 L1521.47 59.63 L1523.15 60.17 L1524.81 60.71 L1526.48 61.28 L1528.14 61.85 L1529.79 62.44 L1531.44 63.04 L1533.09 63.65 L1534.73 64.28 L1536.37 64.91 L1538.01 65.56 L1539.64 66.22 L1541.27 66.89 L1542.89 67.57 L1544.51 68.27 L1546.12 68.97 L1547.74 69.68 L1549.34 70.41 L1550.95 71.15 L1552.55 71.89 L1554.14 72.65 L1555.74 73.41 L1557.33 74.18 L1558.91 74.97 L1560.49 75.76 L1562.07 76.56 L1563.65 77.37 L1565.22 78.19 L1566.78 79.02 L1568.35 79.85 L1569.91 80.69 L1571.47 81.54 L1573.02 82.4 L1574.57 83.27 L1576.12 84.14 L1577.66 85.02 L1579.2 85.91 L1580.74 86.8 L1582.27 87.7 L1583.8 88.6 L1585.33 89.51 L1586.85 90.43 L1588.37 91.35 L1589.89 92.28 L1591.41 93.21 L1592.92 94.15 L1594.43 95.1 L1595.93 96.04 L1597.43 97 L1598.93 97.96 L1600.43 98.92 L1601.92 99.89 L1603.41 100.87 L1604.89 101.85 L1606.38 102.83 L1607.86 103.82 L1609.33 104.82 L1610.8 105.82 L1612.27 106.82 L1613.74 107.83 L1615.2 108.85 L1616.66 109.87 L1618.12 110.89 L1619.57 111.92 L1621.02 112.96 L1622.47 114 L1623.91 115.04 L1625.35 116.09 L1626.79 117.14 L1628.22 118.2 L1629.65 119.27 L1631.07 120.34 L1632.5 121.41 L1633.92 122.49 L1635.33 123.57 L1636.74 124.66 L1638.15 125.75 L1639.56 126.84 L1640.96 127.95 L1642.36 129.05 L1643.75 130.16 L1645.14 131.28 L1646.53 132.4 L1647.91 133.52 L1649.29 134.65 L1650.67 135.78 L1652.05 136.92 L1653.41 138.06 L1654.78 139.21 L1656.14 140.36 L1657.5 141.52 L1658.86 142.68 L1660.21 143.84 L1661.56 145.01 L1662.9 146.18 L1664.24 147.36 L1665.58 148.54 L1666.91 149.72 L1668.24 150.91 L1669.57 152.11 L1670.89 153.31 L1672.21 154.51 L1673.52 155.72 L1674.83 156.93 L1676.14 158.14 L1677.44 159.36 L1678.74 160.58 L1680.04 161.81 L1681.33 163.04 L1682.62 164.28 L1683.9 165.52 L1685.18 166.76 L1686.46 168.01 L1687.73 169.26 L1689 170.52 L1690.27 171.77 L1691.53 173.04 L1692.79 174.3 L1694.04 175.58 L1695.29 176.85 L1696.53 178.13 L1697.77 179.41 L1699.01 180.7 L1700.25 181.99 L1701.48 183.28 L1702.7 184.58 L1703.92 185.88 L1705.14 187.18 L1706.35 188.49 L1707.56 189.8 L1708.77 191.12 L1709.97 192.44 L1711.17 193.76 L1712.36 195.09 L1713.55 196.42 L1714.73 197.75 L1715.92 199.09 L1717.09 200.43 L1718.26 201.78 L1719.43 203.12 L1720.6 204.47 L1721.76 205.83 L1722.91 207.19 L1724.07 208.55 L1725.21 209.91 L1726.36 211.28 L1727.5 212.65 L1728.63 214.03 L1729.76 215.41 L1730.89 216.79 L1732.01 218.17 L1733.13 219.56 L1734.24 220.95 L1735.35 222.35 L1736.46 223.74 L1737.56 225.14 L1738.66 226.55 L1739.75 227.95 L1740.84 229.36 L1741.92 230.78 L1743 232.19 L1744.07 233.61 L1745.15 235.04 L1746.21 236.46 L1747.27 237.89 L1748.33 239.32 L1749.38 240.75 L1750.43 242.19 L1751.48 243.63 L1752.52 245.08 L1753.55 246.52 L1754.58 247.97 L1755.61 249.42 L1756.63 250.88 L1757.65 252.33 L1758.66 253.79 L1759.67 255.26 L1760.67 256.72 L1761.67 258.19 L1762.66 259.66 L1763.65 261.13 L1764.64 262.61 L1765.62 264.09 L1766.6 265.57 L1767.57 267.05 L1768.54 268.54 L1769.5 270.03 L1770.46 271.52 L1771.41 273.02 L1772.36 274.51 L1773.3 276.01 L1774.24 277.52 L1775.17 279.02 L1776.1 280.53 L1777.03 282.04 L1777.95 283.55 L1778.87 285.06 L1779.78 286.58 L1780.69 288.1 L1781.59 289.62 L1782.49 291.14 L1783.39 292.67 L1784.28 294.19 L1785.17 295.72 L1786.05 297.25 L1786.93 298.79 L1787.81 300.32 L1788.68 301.86 L1789.55 303.4 L1790.41 304.95 L1791.28 306.49 L1792.13 308.04 L1792.99 309.58 L1793.84 311.13 L1794.69 312.69 L1795.53 314.24 L1796.37 315.79 L1797.21 317.35 L1798.05 318.91 L1798.88 320.47 L1799.71 322.03 L1800.53 323.6 L1801.35 325.17 L1802.17 326.73 L1802.99 328.3 L1803.81 329.87 L1804.62 331.45 L1805.43 333.02 L1806.23 334.6 L1807.03 336.17 L1807.84 337.75 L1808.63 339.33 L1809.43 340.91 L1810.22 342.5 L1811.01 344.08 L1811.8 345.67 L1812.59 347.25 L1813.38 348.84 L1814.16 350.43 L1814.94 352.02 L1815.72 353.62 L1816.49 355.21 L1817.27 356.8 L1818.04 358.4 L1818.81 360 L1819.58 361.59 L1820.35 363.19 L1821.12 364.79 L1821.88 366.39 L1822.64 368 L1823.4 369.6 L1824.16 371.2 L1824.92 372.81 L1825.68 374.41 L1826.44 376.02 L1827.19 377.63 L1827.95 379.24 L1828.7 380.85 L1829.45 382.46 L1830.2 384.07 L1830.95 385.68 L1831.7 387.29 L1832.45 388.9 L1833.19 390.52 L1833.94 392.13 L1834.69 393.75 L1835.43 395.36 L1836.18 396.98 L1836.92 398.59 L1837.67 400.21 L1838.41 401.83 L1839.15 403.45 L1839.9 405.07 L1840.64 406.68 L1841.38 408.3 L1842.12 409.92 L1842.86 411.54 L1843.6 413.16 L1844.34 414.79 L1845.08 416.41 L1845.82 418.03 L1846.55 419.65 L1847.29 421.28 L1848.02 422.9 L1848.76 424.52 L1849.49 426.15 L1850.22 427.78 L1850.95 429.4 L1851.68 431.03 L1852.41 432.66 L1853.14 434.28 L1853.86 435.91 L1854.59 437.54 L1855.31 439.17 L1856.03 440.8 L1856.75 442.43 L1857.47 444.07 L1858.19 445.7 L1858.9 447.33 L1859.61 448.97 L1860.32 450.6 L1861.03 452.24 L1861.74 453.87 L1862.45 455.51 L1863.15 457.15 L1863.85 458.78 L1864.55 460.42 L1865.25 462.06 L1865.94 463.7 L1866.63 465.34 L1867.32 466.98 L1868.01 468.63 L1868.7 470.27 L1869.38 471.92 L1870.06 473.56 L1870.74 475.21 L1871.41 476.85 L1872.09 478.5 L1872.76 480.15 L1873.42 481.8 L1874.09 483.45 L1874.75 485.1 L1875.41 486.75 L1876.06 488.4 L1876.72 490.06 L1877.37 491.71 L1878.01 493.36 L1878.66 495.02 L1879.3 496.68 L1879.93 498.34 L1880.57 499.99 L1881.2 501.65 L1881.82 503.32 L1882.45 504.98 L1883.07 506.64 L1883.68 508.3 L1884.29 509.97 L1884.9 511.63 L1885.51 513.3 L1886.11 514.97 L1886.71 516.64 L1887.3 518.31 L1887.89 519.98 L1888.48 521.65 L1889.06 523.32 L1889.64 524.99 L1890.21 526.67 L1890.78 528.34 L1891.35 530.02 L1891.91 531.7 L1892.47 533.38 L1893.03 535.05 L1893.59 536.73 L1894.15 538.41 L1894.72 540.09 L1895.28 541.77 L1895.85 543.45 L1896.42 545.13 L1896.99 546.8 L1897.57 548.48 L1898.15 550.16 L1898.74 551.83 L1899.33 553.5 L1899.94 555.18 L1900.55 556.85 L1901.17 558.52 L1901.79 560.19 L1902.43 561.85 L1903.08 563.52 L1903.74 565.18 L1904.42 566.84 L1905.1 568.49 L1905.8 570.15 L1906.52 571.8 L1907.24 573.45 L1907.99 575.1 L1908.75 576.74 L1909.53 578.38 L1910.32 580.02 L1911.14 581.65 L1911.97 583.28 L1912.82 584.91 L1913.7 586.53 L1914.59 588.15 L1915.51 589.76 L1916.45 591.37 L1917.41 592.97 L1918.4 594.57 L1919.41 596.15 L1920.43 597.65 L1921.47 599.06 L1922.52 600.33 L1923.58 601.42 L1924.64 602.29 L1925.69 602.91 L1926.74 603.25 L1927.79 603.26 L1928.81 602.94 L1929.82 602.33 L1930.81 601.45 L1931.77 600.34 L1932.69 599.01 L1933.59 597.51 L1934.44 595.86 L1935.25 594.09 L1936.02 592.23 L1936.73 590.3 L1937.39 588.35 L1937.99 586.39 L1938.53 584.44 L1939.02 582.51 L1939.47 580.6 L1939.89 578.7 L1940.28 576.83 L1940.66 574.98 L1941.02 573.16 L1941.39 571.37 L1941.76 569.61 L1942.14 567.88 L1942.55 566.19 L1942.97 564.52 L1943.41 562.88 L1943.87 561.26 L1944.34 559.65 L1944.84 558.04 L1945.35 556.44 L1945.87 554.84 L1946.41 553.23 L1946.97 551.6 L1947.55 549.96 L1948.13 548.29 L1948.74 546.6 L1949.36 544.87 L1949.99 543.1 L1950.64 541.29 L1950.5 541.22 L1951.18 542.95 L1951.83 544.67 L1952.46 546.39 L1953.06 548.11 L1953.63 549.82 L1954.18 551.53 L1954.71 553.23 L1955.21 554.94 L1955.69 556.64 L1956.15 558.33 L1956.6 560.03 L1957.03 561.72 L1957.44 563.42 L1957.83 565.11 L1958.21 566.8 L1958.58 568.49 L1958.94 570.18 L1959.29 571.87 L1959.62 573.56 L1959.95 575.25 L1960.27 576.94 L1960.59 578.64 L1960.9 580.33 L1961.21 582.03 L1961.51 583.73 L1961.82 585.43 L1962.12 587.13 L1962.42 588.84 L1962.73 590.55 L1963.04 592.27 L1963.35 593.98 L1963.67 595.71 L1964 597.44 L1964.33 599.17 L1964.68 600.91 L1965.03 602.65 L1965.4 604.4 L1965.77 606.15 L1966.17 607.91 L1966.57 609.68 L1966.99 611.46 L1967.43 613.24 L1967.89 615.03 L1968.36 616.83 L1968.86 618.63 L1969.38 620.45 L1969.92 622.27 L1970.49 624.1 L1971.08 625.94 L1971.7 627.78 L1972.35 629.59 L1973.05 631.32 L1973.79 632.93 L1974.6 634.38 L1975.47 635.63 L1976.42 636.64 L1977.45 637.36 L1978.57 637.77 L1979.8 637.8 L1981.11 637.47 L1982.48 636.83 L1983.87 635.98 L1985.22 635.01 L1986.52 633.95 L1987.78 632.82 L1988.99 631.62 L1990.15 630.36 L1991.28 629.04 L1992.37 627.67 L1993.43 626.25 L1994.46 624.8 L1995.46 623.3 L1996.45 621.77 L1997.41 620.22 L1998.36 618.64 L1999.3 617.05 L2000.23 615.44 L2001.16 613.83 L2002.08 612.22 L2003.01 610.61 L2003.94 609 L2004.88 607.42 L2005.83 605.85 L2006.8 604.3 L2007.78 602.77 L2008.78 601.27 L2009.79 599.78 L2010.81 598.31 L2011.84 596.86 L2012.89 595.43 L2013.95 594.02 L2015.03 592.62 L2016.11 591.24 L2017.21 589.87 L2018.32 588.52 L2019.44 587.19 L2020.57 585.86 L2021.72 584.55 L2022.88 583.26 L2024.04 581.97 L2025.22 580.7 L2026.41 579.44 L2027.61 578.19 L2028.82 576.95 L2030.03 575.72 L2031.26 574.5 L2032.5 573.28 L2033.75 572.07 L2035 570.87 L2036.27 569.68 L2037.54 568.49 L2038.82 567.31 L2040.12 566.13 L2041.41 564.96 L2042.72 563.79 L2044.03 562.62 L2045.36 561.46 L2046.69 560.3 L2048.02 559.14 L2049.37 557.99 L2050.72 556.84 L2052.08 555.7 L2053.45 554.57 L2054.82 553.44 L2056.21 552.32 L2057.6 551.21 L2059 550.11 L2060.41 549.03 L2061.83 547.95 L2063.25 546.88 L2064.68 545.83 L2066.13 544.79 L2067.58 543.76 L2069.04 542.75 L2070.5 541.76 L2071.98 540.78 L2073.46 539.81 L2074.96 538.87 L2076.46 537.94 L2077.97 537.03 L2079.49 536.15 L2081.02 535.28 L2082.56 534.43 L2084.11 533.61 L2085.66 532.8 L2087.23 532.02 L2088.8 531.27 L2090.39 530.54 L2091.98 529.83" fill="none" stroke="#fe0000" stroke-width="10.8" stroke-linejoin="round"/>
</g>
<ellipse cx="1307.4" cy="201" rx="22.5" ry="50.5" transform="rotate(0 1307.4 201)" fill="#cccccc" stroke="#000" stroke-width="6"/>
<circle cx="1307.7" cy="148.9" r="6.3" fill="#fe0000"/>
<ellipse cx="1470.5" cy="139.7" rx="50.5" ry="22.3" transform="rotate(0 1470.5 139.7)" fill="#cccccc" stroke="#000" stroke-width="6"/>
<circle cx="1522" cy="140" r="6.5" fill="#fe0000"/>
<ellipse cx="1949.2" cy="458.5" rx="22.5" ry="52.5" transform="rotate(0 1949.2 458.5)" fill="#cccccc" stroke="#000" stroke-width="6"/>
<circle cx="1949.2" cy="507.4" r="6.5" fill="#fe0000"/>
<circle cx="1304.9" cy="63.9" r="12.8" fill="#0000fe"/>
<circle cx="1466.9" cy="50.7" r="13" fill="#0000fe"/>
<circle cx="1950.6" cy="545.3" r="12.9" fill="#0000fe"/>
<line x1="1311" y1="61.95" x2="2166" y2="61.95" stroke="#000" stroke-width="5.7" />
<line x1="1960.2" y1="541.8" x2="2168.4" y2="541.8" stroke="#000" stroke-width="5.8" />
<line x1="2120.5" y1="80" x2="2120.5" y2="524" stroke="#000" stroke-width="5" />
<path d="M2120.5 64.5 L2131.25 92.5 L2120.5 84.1 L2109.75 92.5 Z" fill="#000"/>
<path d="M2120.5 539.5 L2109.75 511.5 L2120.5 519.9 L2131.25 511.5 Z" fill="#000"/>
<text transform="translate(2131.59 332) scale(0.96 1)" font-family="'Liberation Serif', serif" font-style="italic" font-size="112.4" fill="#000" text-anchor="start">Δ</text>
<text transform="translate(2198.34 332.69) scale(1.01 1)" font-family="'Liberation Serif', serif" font-style="italic" font-size="108.92" fill="#000" text-anchor="start">y</text>
<text transform="translate(2243.79 354.25) scale(1.18 1)" font-family="'Liberation Serif', serif" font-style="italic" font-size="69.29" fill="#000" text-anchor="start">p</text>
<text transform="translate(1295.34 615.09) scale(1.01 1)" font-family="'Liberation Serif', serif" font-size="111.39" fill="#000" text-anchor="start">(b)</text>
<text transform="translate(1268.1 729.7) scale(0.93 1)" font-family="'Liberation Sans', sans-serif" font-size="53.5" fill="#262626" stroke="#262626" stroke-width="0.7" text-anchor="middle">0</text>
<text transform="translate(1445.9 729.7) scale(0.93 1)" font-family="'Liberation Sans', sans-serif" font-size="53.5" fill="#262626" stroke="#262626" stroke-width="0.7" text-anchor="middle">0.05</text>
<text transform="translate(1623.9 729.7) scale(0.93 1)" font-family="'Liberation Sans', sans-serif" font-size="53.5" fill="#262626" stroke="#262626" stroke-width="0.7" text-anchor="middle">0.1</text>
<text transform="translate(1801.6 729.7) scale(0.93 1)" font-family="'Liberation Sans', sans-serif" font-size="53.5" fill="#262626" stroke="#262626" stroke-width="0.7" text-anchor="middle">0.15</text>
<text transform="translate(1979.4 729.7) scale(0.93 1)" font-family="'Liberation Sans', sans-serif" font-size="53.5" fill="#262626" stroke="#262626" stroke-width="0.7" text-anchor="middle">0.2</text>
<text transform="translate(1248.2 104) scale(0.93 1)" font-family="'Liberation Sans', sans-serif" font-size="53.5" fill="#262626" stroke="#262626" stroke-width="0.7" text-anchor="end">12</text>
<text transform="translate(1248.2 228.9) scale(0.93 1)" font-family="'Liberation Sans', sans-serif" font-size="53.5" fill="#262626" stroke="#262626" stroke-width="0.7" text-anchor="end">11.5</text>
<text transform="translate(1248.2 353.7) scale(0.93 1)" font-family="'Liberation Sans', sans-serif" font-size="53.5" fill="#262626" stroke="#262626" stroke-width="0.7" text-anchor="end">11</text>
<text transform="translate(1248.2 478.1) scale(0.93 1)" font-family="'Liberation Sans', sans-serif" font-size="53.5" fill="#262626" stroke="#262626" stroke-width="0.7" text-anchor="end">10.5</text>
<text transform="translate(1248.2 602.5) scale(0.93 1)" font-family="'Liberation Sans', sans-serif" font-size="53.5" fill="#262626" stroke="#262626" stroke-width="0.7" text-anchor="end">10</text>
<text transform="translate(1623.54 797.22) scale(1.13 1)" font-family="'Liberation Serif', serif" font-style="italic" font-size="69.84" fill="#262626" text-anchor="start">t</text>
<text transform="translate(1661.32 797.6) scale(0.88 1)" font-family="'Liberation Serif', serif" font-size="67.16" fill="#262626" text-anchor="start">(</text>
<text transform="translate(1680.13 797.31) scale(1.12 1)" font-family="'Liberation Serif', serif" font-size="60.3" fill="#262626" text-anchor="start">s</text>
<text transform="translate(1706.01 797.6) scale(0.88 1)" font-family="'Liberation Serif', serif" font-size="67.16" fill="#262626" text-anchor="start">)</text>
<g transform="translate(1113 347.7) rotate(-90)">
<text transform="translate(-90.46 -0.73) scale(0.91 1)" font-family="'Liberation Serif', serif" font-style="italic" font-size="59.42" fill="#262626" text-anchor="start">y</text>
<text transform="translate(-64.66 8.86) scale(1.02 1)" font-family="'Liberation Serif', serif" font-style="italic" font-size="39.18" fill="#262626" text-anchor="start">p</text>
<text transform="translate(-29.32 0.93) scale(0.85 1)" font-family="'Liberation Serif', serif" font-size="67.49" fill="#262626" text-anchor="start">(</text>
<text transform="translate(-6.33 0.02) scale(1.16 1)" font-family="'Liberation Serif', serif" font-style="italic" font-size="59.75" fill="#262626" text-anchor="start">μ</text>
<text transform="translate(27.95 0) scale(1.11 1)" font-family="'Liberation Serif', serif" font-size="58.15" fill="#262626" text-anchor="start">m</text>
<text transform="translate(79.06 0.93) scale(0.85 1)" font-family="'Liberation Serif', serif" font-size="67.49" fill="#262626" text-anchor="start">)</text>
</g>
<!-- plot c -->
<line x1="473.2" y1="1238.7" x2="473.2" y2="1603.9" stroke="#dedede" stroke-width="3" />
<line x1="848.8" y1="1238.7" x2="848.8" y2="1603.9" stroke="#dedede" stroke-width="3" />
<line x1="1224.4" y1="1238.7" x2="1224.4" y2="1603.9" stroke="#dedede" stroke-width="3" />
<line x1="1600" y1="1238.7" x2="1600" y2="1603.9" stroke="#dedede" stroke-width="3" />
<line x1="1975.6" y1="1238.7" x2="1975.6" y2="1603.9" stroke="#dedede" stroke-width="3" />
<line x1="348.2" y1="1340.3" x2="2100.7" y2="1340.3" stroke="#dedede" stroke-width="3" />
<line x1="348.2" y1="1441.8" x2="2100.7" y2="1441.8" stroke="#dedede" stroke-width="3" />
<line x1="348.2" y1="1543.5" x2="2100.7" y2="1543.5" stroke="#dedede" stroke-width="3" />
<line x1="473.2" y1="1603.9" x2="473.2" y2="1585.9" stroke="#262626" stroke-width="3" />
<line x1="473.2" y1="1238.7" x2="473.2" y2="1256.7" stroke="#262626" stroke-width="3" />
<line x1="848.8" y1="1603.9" x2="848.8" y2="1585.9" stroke="#262626" stroke-width="3" />
<line x1="848.8" y1="1238.7" x2="848.8" y2="1256.7" stroke="#262626" stroke-width="3" />
<line x1="1224.4" y1="1603.9" x2="1224.4" y2="1585.9" stroke="#262626" stroke-width="3" />
<line x1="1224.4" y1="1238.7" x2="1224.4" y2="1256.7" stroke="#262626" stroke-width="3" />
<line x1="1600" y1="1603.9" x2="1600" y2="1585.9" stroke="#262626" stroke-width="3" />
<line x1="1600" y1="1238.7" x2="1600" y2="1256.7" stroke="#262626" stroke-width="3" />
<line x1="1975.6" y1="1603.9" x2="1975.6" y2="1585.9" stroke="#262626" stroke-width="3" />
<line x1="1975.6" y1="1238.7" x2="1975.6" y2="1256.7" stroke="#262626" stroke-width="3" />
<line x1="348.2" y1="1340.3" x2="366.7" y2="1340.3" stroke="#262626" stroke-width="3" />
<line x1="2100.7" y1="1340.3" x2="2082.2" y2="1340.3" stroke="#262626" stroke-width="3" />
<line x1="348.2" y1="1441.8" x2="366.7" y2="1441.8" stroke="#262626" stroke-width="3" />
<line x1="2100.7" y1="1441.8" x2="2082.2" y2="1441.8" stroke="#262626" stroke-width="3" />
<line x1="348.2" y1="1543.5" x2="366.7" y2="1543.5" stroke="#262626" stroke-width="3" />
<line x1="2100.7" y1="1543.5" x2="2082.2" y2="1543.5" stroke="#262626" stroke-width="3" />
<rect x="348.2" y="1238.7" width="1752.5" height="365.2" fill="none" stroke="#262626" stroke-width="3.5"/>
<g clip-path="url(#cc)">
<path d="M348 1523.67 L351.51 1524.74 L355.02 1525.79 L358.54 1526.81 L362.05 1527.8 L365.56 1528.77 L369.08 1529.7 L372.59 1530.6 L376.1 1531.48 L379.61 1532.33 L383.13 1533.14 L386.64 1533.93 L390.15 1534.69 L393.66 1535.41 L397.18 1536.11 L400.69 1536.78 L404.2 1537.41 L407.71 1538.02 L411.23 1538.59 L414.74 1539.13 L418.25 1539.65 L421.76 1540.13 L425.28 1540.58 L428.79 1540.99 L432.3 1541.38 L435.82 1541.74 L439.33 1542.06 L442.84 1542.35 L446.35 1542.61 L449.87 1542.84 L453.38 1543.04 L456.89 1543.2 L460.4 1543.33 L463.92 1543.43 L467.43 1543.5 L470.94 1543.54 L474.45 1543.54 L477.97 1543.52 L481.48 1543.46 L484.99 1543.36 L488.51 1543.24 L492.02 1543.09 L495.53 1542.9 L499.04 1542.68 L502.56 1542.43 L506.07 1542.15 L509.58 1541.83 L513.09 1541.49 L516.61 1541.11 L520.12 1540.7 L523.63 1540.26 L527.14 1539.79 L530.66 1539.28 L534.17 1538.75 L537.68 1538.18 L541.19 1537.59 L544.71 1536.96 L548.22 1536.3 L551.73 1535.62 L555.25 1534.9 L558.76 1534.15 L562.27 1533.37 L565.78 1532.56 L569.3 1531.72 L572.81 1530.86 L576.32 1529.96 L579.83 1529.04 L583.35 1528.08 L586.86 1527.1 L590.37 1526.09 L593.88 1525.05 L597.4 1523.98 L600.91 1522.88 L604.42 1521.76 L607.93 1520.61 L611.45 1519.43 L614.96 1518.23 L618.47 1517 L621.99 1515.74 L625.5 1514.46 L629.01 1513.15 L632.52 1511.81 L636.04 1510.45 L639.55 1509.07 L643.06 1507.66 L646.57 1506.23 L650.09 1504.77 L653.6 1503.29 L657.11 1501.78 L660.62 1500.26 L664.14 1498.71 L667.65 1497.13 L671.16 1495.54 L674.67 1493.92 L678.19 1492.29 L681.7 1490.63 L685.21 1488.95 L688.73 1487.25 L692.24 1485.53 L695.75 1483.79 L699.26 1482.04 L702.78 1480.26 L706.29 1478.47 L709.8 1476.65 L713.31 1474.82 L716.83 1472.98 L720.34 1471.11 L723.85 1469.23 L727.36 1467.33 L730.88 1465.42 L734.39 1463.5 L737.9 1461.55 L741.42 1459.6 L744.93 1457.63 L748.44 1455.64 L751.95 1453.65 L755.47 1451.64 L758.98 1449.62 L762.49 1447.58 L766 1445.54 L769.52 1443.48 L773.03 1441.42 L776.54 1439.34 L780.05 1437.26 L783.57 1435.16 L787.08 1433.06 L790.59 1430.95 L794.1 1428.83 L797.62 1426.7 L801.13 1424.57 L804.64 1422.43 L808.16 1420.28 L811.67 1418.13 L815.18 1415.98 L818.69 1413.82 L822.21 1411.65 L825.72 1409.49 L829.23 1407.32 L832.74 1405.14 L836.26 1402.97 L839.77 1400.79 L843.28 1398.61 L846.79 1396.43 L850.31 1394.25 L853.82 1392.07 L857.33 1389.9 L860.84 1387.72 L864.36 1385.54 L867.87 1383.37 L871.38 1381.2 L874.9 1379.03 L878.41 1376.86 L881.92 1374.7 L885.43 1372.55 L888.95 1370.4 L892.46 1368.25 L895.97 1366.11 L899.48 1363.98 L903 1361.85 L906.51 1359.73 L910.02 1357.62 L913.53 1355.51 L917.05 1353.42 L920.56 1351.33 L924.07 1349.25 L927.58 1347.19 L931.1 1345.13 L934.61 1343.08 L938.12 1341.05 L941.64 1339.02 L945.15 1337.01 L948.66 1335.02 L952.17 1333.03 L955.69 1331.06 L959.2 1329.1 L962.71 1327.16 L966.22 1325.23 L969.74 1323.31 L973.25 1321.41 L976.76 1319.53 L980.27 1317.66 L983.79 1315.81 L987.3 1313.98 L990.81 1312.17 L994.33 1310.37 L997.84 1308.59 L1001.35 1306.83 L1004.86 1305.09 L1008.38 1303.37 L1011.89 1301.67 L1015.4 1299.98 L1018.91 1298.32 L1022.43 1296.68 L1025.94 1295.06 L1029.45 1293.47 L1032.96 1291.89 L1036.48 1290.34 L1039.99 1288.81 L1043.5 1287.3 L1047.01 1285.81 L1050.53 1284.35 L1054.04 1282.92 L1057.55 1281.51 L1061.07 1280.12 L1064.58 1278.75 L1068.09 1277.42 L1071.6 1276.1 L1075.12 1274.82 L1078.63 1273.56 L1082.14 1272.32 L1085.65 1271.11 L1089.17 1269.93 L1092.68 1268.78 L1096.19 1267.65 L1099.7 1266.55 L1103.22 1265.48 L1106.73 1264.43 L1110.24 1263.42 L1113.75 1262.43 L1117.27 1261.47 L1120.78 1260.54 L1124.29 1259.64 L1127.81 1258.77 L1131.32 1257.93 L1134.83 1257.12 L1138.34 1256.33 L1141.86 1255.58 L1145.37 1254.86 L1148.88 1254.17 L1152.39 1253.51 L1155.91 1252.87 L1159.42 1252.27 L1162.93 1251.7 L1166.44 1251.17 L1169.96 1250.66 L1173.47 1250.18 L1176.98 1249.74 L1180.5 1249.32 L1184.01 1248.94 L1187.52 1248.59 L1191.03 1248.27 L1194.55 1247.98 L1198.06 1247.73 L1201.57 1247.51 L1205.08 1247.31 L1208.6 1247.15 L1212.11 1247.03 L1215.62 1246.93 L1219.13 1246.87 L1222.65 1246.83 L1226.16 1246.83 L1229.67 1246.87 L1233.18 1246.93 L1236.7 1247.03 L1240.21 1247.15 L1243.72 1247.31 L1247.24 1247.51 L1250.75 1247.73 L1254.26 1247.98 L1257.77 1248.27 L1261.29 1248.59 L1264.8 1248.94 L1268.31 1249.32 L1271.82 1249.74 L1275.34 1250.18 L1278.85 1250.66 L1282.36 1251.17 L1285.87 1251.7 L1289.39 1252.27 L1292.9 1252.87 L1296.41 1253.51 L1299.92 1254.17 L1303.44 1254.86 L1306.95 1255.58 L1310.46 1256.33 L1313.98 1257.12 L1317.49 1257.93 L1321 1258.77 L1324.51 1259.64 L1328.03 1260.54 L1331.54 1261.47 L1335.05 1262.43 L1338.56 1263.42 L1342.08 1264.43 L1345.59 1265.48 L1349.1 1266.55 L1352.61 1267.65 L1356.13 1268.78 L1359.64 1269.93 L1363.15 1271.11 L1366.66 1272.32 L1370.18 1273.56 L1373.69 1274.82 L1377.2 1276.1 L1380.72 1277.42 L1384.23 1278.75 L1387.74 1280.12 L1391.25 1281.51 L1394.77 1282.92 L1398.28 1284.35 L1401.79 1285.81 L1405.3 1287.3 L1408.82 1288.81 L1412.33 1290.34 L1415.84 1291.89 L1419.35 1293.47 L1422.87 1295.06 L1426.38 1296.68 L1429.89 1298.32 L1433.41 1299.98 L1436.92 1301.67 L1440.43 1303.37 L1443.94 1305.09 L1447.46 1306.83 L1450.97 1308.59 L1454.48 1310.37 L1457.99 1312.17 L1461.51 1313.98 L1465.02 1315.81 L1468.53 1317.66 L1472.04 1319.53 L1475.56 1321.41 L1479.07 1323.31 L1482.58 1325.23 L1486.09 1327.16 L1489.61 1329.1 L1493.12 1331.06 L1496.63 1333.03 L1500.15 1335.02 L1503.66 1337.01 L1507.17 1339.02 L1510.68 1341.05 L1514.2 1343.08 L1517.71 1345.13 L1521.22 1347.19 L1524.73 1349.25 L1528.25 1351.33 L1531.76 1353.42 L1535.27 1355.51 L1538.78 1357.62 L1542.3 1359.73 L1545.81 1361.85 L1549.32 1363.98 L1552.83 1366.11 L1556.35 1368.25 L1559.86 1370.4 L1563.37 1372.55 L1566.89 1374.7 L1570.4 1376.86 L1573.91 1379.03 L1577.42 1381.2 L1580.94 1383.37 L1584.45 1385.54 L1587.96 1387.72 L1591.47 1389.9 L1594.99 1392.07 L1598.5 1394.25 L1602.01 1396.43 L1605.52 1398.61 L1609.04 1400.79 L1612.55 1402.97 L1616.06 1405.14 L1619.57 1407.32 L1623.09 1409.49 L1626.6 1411.65 L1630.11 1413.82 L1633.63 1415.98 L1637.14 1418.13 L1640.65 1420.28 L1644.16 1422.43 L1647.68 1424.57 L1651.19 1426.7 L1654.7 1428.83 L1658.21 1430.95 L1661.73 1433.06 L1665.24 1435.16 L1668.75 1437.26 L1672.26 1439.34 L1675.78 1441.42 L1679.29 1443.48 L1682.8 1445.54 L1686.32 1447.58 L1689.83 1449.62 L1693.34 1451.64 L1696.85 1453.65 L1700.37 1455.64 L1703.88 1457.63 L1707.39 1459.6 L1710.9 1461.55 L1714.42 1463.5 L1717.93 1465.42 L1721.44 1467.33 L1724.95 1469.23 L1728.47 1471.11 L1731.98 1472.98 L1735.49 1474.82 L1739 1476.65 L1742.52 1478.47 L1746.03 1480.26 L1749.54 1482.04 L1753.06 1483.79 L1756.57 1485.53 L1760.08 1487.25 L1763.59 1488.95 L1767.11 1490.63 L1770.62 1492.29 L1774.13 1493.92 L1777.64 1495.54 L1781.16 1497.13 L1784.67 1498.71 L1788.18 1500.26 L1791.69 1501.78 L1795.21 1503.29 L1798.72 1504.77 L1802.23 1506.23 L1805.74 1507.66 L1809.26 1509.07 L1812.77 1510.45 L1816.28 1511.81 L1819.8 1513.15 L1823.31 1514.46 L1826.82 1515.74 L1830.33 1517 L1833.85 1518.23 L1837.36 1519.43 L1840.87 1520.61 L1844.38 1521.76 L1847.9 1522.88 L1851.41 1523.98 L1854.92 1525.05 L1858.43 1526.09 L1861.95 1527.1 L1865.46 1528.08 L1868.97 1529.04 L1872.48 1529.96 L1876 1530.86 L1879.51 1531.72 L1883.02 1532.56 L1886.54 1533.37 L1890.05 1534.15 L1893.56 1534.9 L1897.07 1535.62 L1900.59 1536.3 L1904.1 1536.96 L1907.61 1537.59 L1911.12 1538.18 L1914.64 1538.75 L1918.15 1539.28 L1921.66 1539.79 L1925.17 1540.26 L1928.69 1540.7 L1932.2 1541.11 L1935.71 1541.49 L1939.23 1541.83 L1942.74 1542.15 L1946.25 1542.43 L1949.76 1542.68 L1953.28 1542.9 L1956.79 1543.09 L1960.3 1543.24 L1963.81 1543.36 L1967.33 1543.46 L1970.84 1543.52 L1974.35 1543.54 L1977.86 1543.54 L1981.38 1543.5 L1984.89 1543.43 L1988.4 1543.33 L1991.91 1543.2 L1995.43 1543.04 L1998.94 1542.84 L2002.45 1542.61 L2005.97 1542.35 L2009.48 1542.06 L2012.99 1541.74 L2016.5 1541.38 L2020.02 1540.99 L2023.53 1540.58 L2027.04 1540.13 L2030.55 1539.65 L2034.07 1539.13 L2037.58 1538.59 L2041.09 1538.02 L2044.6 1537.41 L2048.12 1536.78 L2051.63 1536.11 L2055.14 1535.41 L2058.65 1534.69 L2062.17 1533.93 L2065.68 1533.14 L2069.19 1532.33 L2072.71 1531.48 L2076.22 1530.6 L2079.73 1529.7 L2083.24 1528.77 L2086.76 1527.8 L2090.27 1526.81 L2093.78 1525.79 L2097.29 1524.74 L2100.81 1523.67" fill="none" stroke="#000" stroke-width="10.5" stroke-dasharray="31.3 28.3" stroke-dashoffset="-3"/>
<path d="M340.19 1500.56 L343.55 1502.55 L346.93 1504.5 L350.33 1506.41 L353.75 1508.28 L357.19 1510.1 L360.66 1511.89 L364.14 1513.63 L367.65 1515.34 L371.17 1517 L374.71 1518.63 L378.28 1520.21 L381.85 1521.75 L385.45 1523.25 L389.06 1524.71 L392.69 1526.13 L396.34 1527.51 L400 1528.84 L403.67 1530.14 L407.36 1531.39 L411.06 1532.6 L414.78 1533.77 L418.51 1534.9 L422.25 1535.99 L426 1537.04 L429.76 1538.04 L433.53 1539.01 L437.32 1539.93 L441.11 1540.81 L444.91 1541.65 L448.72 1542.45 L452.54 1543.2 L456.37 1543.91 L460.2 1544.59 L464.04 1545.21 L467.88 1545.8 L471.73 1546.35 L475.59 1546.85 L479.45 1547.31 L483.31 1547.73 L487.18 1548.11 L491.05 1548.44 L494.92 1548.73 L498.8 1548.98 L502.67 1549.19 L506.55 1549.35 L510.42 1549.48 L514.3 1549.56 L518.17 1549.59 L522.05 1549.59 L525.92 1549.54 L529.79 1549.45 L533.66 1549.32 L537.53 1549.15 L541.39 1548.93 L545.25 1548.68 L549.11 1548.39 L552.97 1548.06 L556.82 1547.69 L560.67 1547.28 L564.52 1546.84 L568.37 1546.35 L572.21 1545.83 L576.04 1545.28 L579.88 1544.69 L583.71 1544.06 L587.53 1543.4 L591.35 1542.7 L595.17 1541.98 L598.98 1541.21 L602.78 1540.42 L606.59 1539.59 L610.38 1538.73 L614.17 1537.84 L617.96 1536.91 L621.73 1535.96 L625.51 1534.98 L629.27 1533.96 L633.03 1532.92 L636.79 1531.85 L640.53 1530.75 L644.27 1529.62 L648.01 1528.47 L651.73 1527.29 L655.45 1526.08 L659.16 1524.84 L662.87 1523.58 L666.56 1522.3 L670.25 1520.99 L673.93 1519.66 L677.6 1518.3 L681.26 1516.92 L684.91 1515.52 L688.56 1514.09 L692.19 1512.65 L695.82 1511.18 L699.44 1509.69 L703.04 1508.18 L706.64 1506.65 L710.23 1505.1 L713.8 1503.53 L717.37 1501.95 L720.93 1500.34 L724.47 1498.72 L728.01 1497.08 L731.53 1495.43 L735.05 1493.76 L738.55 1492.07 L742.04 1490.36 L745.53 1488.64 L749 1486.91 L752.46 1485.15 L755.92 1483.39 L759.36 1481.6 L762.8 1479.81 L766.22 1477.99 L769.64 1476.17 L773.05 1474.33 L776.45 1472.47 L779.84 1470.6 L783.23 1468.72 L786.61 1466.83 L789.97 1464.92 L793.34 1463 L796.69 1461.06 L800.04 1459.12 L803.37 1457.16 L806.71 1455.19 L810.03 1453.21 L813.35 1451.21 L816.66 1449.21 L819.97 1447.19 L823.27 1445.17 L826.56 1443.13 L829.85 1441.08 L833.14 1439.02 L836.41 1436.96 L839.69 1434.88 L842.95 1432.79 L846.22 1430.7 L849.47 1428.59 L852.73 1426.48 L855.97 1424.35 L859.22 1422.22 L862.46 1420.08 L865.7 1417.93 L868.93 1415.78 L872.16 1413.62 L875.38 1411.45 L878.61 1409.27 L881.83 1407.08 L885.04 1404.89 L888.26 1402.7 L891.47 1400.49 L894.68 1398.29 L897.88 1396.07 L901.09 1393.85 L904.29 1391.63 L907.5 1389.41 L910.7 1387.18 L913.9 1384.95 L917.11 1382.72 L920.31 1380.49 L923.51 1378.26 L926.72 1376.03 L929.92 1373.8 L933.13 1371.57 L936.34 1369.35 L939.55 1367.12 L942.76 1364.91 L945.98 1362.7 L949.2 1360.49 L952.42 1358.29 L955.65 1356.09 L958.88 1353.91 L962.11 1351.73 L965.35 1349.56 L968.6 1347.4 L971.85 1345.24 L975.1 1343.1 L978.36 1340.97 L981.63 1338.86 L984.91 1336.75 L988.19 1334.66 L991.48 1332.58 L994.77 1330.51 L998.08 1328.47 L1001.39 1326.43 L1004.71 1324.41 L1008.04 1322.41 L1011.38 1320.43 L1014.73 1318.47 L1018.08 1316.52 L1021.45 1314.59 L1024.83 1312.69 L1028.22 1310.8 L1031.62 1308.94 L1035.03 1307.1 L1038.46 1305.28 L1041.89 1303.48 L1045.34 1301.71 L1048.8 1299.97 L1052.27 1298.25 L1055.76 1296.55 L1059.26 1294.88 L1062.77 1293.23 L1066.29 1291.61 L1069.82 1290.02 L1073.37 1288.45 L1076.93 1286.9 L1080.49 1285.38 L1084.07 1283.89 L1087.66 1282.42 L1091.27 1280.97 L1094.88 1279.56 L1098.5 1278.16 L1102.13 1276.8 L1105.77 1275.45 L1109.43 1274.14 L1113.09 1272.85 L1116.76 1271.58 L1120.44 1270.35 L1124.14 1269.13 L1127.84 1267.95 L1131.54 1266.79 L1135.26 1265.65 L1138.99 1264.54 L1142.72 1263.46 L1146.47 1262.4 L1150.22 1261.37 L1153.98 1260.37 L1157.75 1259.39 L1161.52 1258.44 L1165.3 1257.51 L1169.09 1256.61 L1172.89 1255.74 L1176.69 1254.9 L1180.5 1254.08 L1184.32 1253.28 L1188.15 1252.52 L1191.98 1251.77 L1195.81 1251.06 L1199.65 1250.37 L1203.5 1249.72 L1207.35 1249.09 L1211.21 1248.49 L1215.07 1247.91 L1218.94 1247.37 L1222.81 1246.87 L1226.68 1246.39 L1230.55 1245.95 L1234.43 1245.53 L1238.31 1245.16 L1242.19 1244.82 L1246.08 1244.51 L1249.96 1244.24 L1253.84 1244.01 L1257.73 1243.82 L1261.61 1243.66 L1265.49 1243.54 L1269.38 1243.47 L1273.26 1243.43 L1277.14 1243.44 L1281.01 1243.49 L1284.89 1243.58 L1288.76 1243.71 L1292.63 1243.9 L1296.49 1244.12 L1300.35 1244.4 L1304.21 1244.72 L1308.06 1245.09 L1311.9 1245.5 L1315.74 1245.97 L1319.58 1246.49 L1323.4 1247.06 L1327.22 1247.68 L1331.04 1248.34 L1334.84 1249.06 L1338.64 1249.82 L1342.43 1250.62 L1346.21 1251.47 L1349.99 1252.37 L1353.76 1253.3 L1357.52 1254.28 L1361.27 1255.3 L1365.01 1256.35 L1368.75 1257.44 L1372.47 1258.56 L1376.19 1259.72 L1379.9 1260.9 L1383.61 1262.12 L1387.3 1263.36 L1390.99 1264.63 L1394.66 1265.93 L1398.33 1267.24 L1401.99 1268.58 L1405.65 1269.94 L1409.29 1271.32 L1412.93 1272.72 L1416.55 1274.14 L1420.17 1275.58 L1423.78 1277.04 L1427.39 1278.52 L1430.98 1280.02 L1434.56 1281.54 L1438.14 1283.08 L1441.71 1284.63 L1445.27 1286.2 L1448.82 1287.8 L1452.36 1289.41 L1455.9 1291.03 L1459.42 1292.68 L1462.94 1294.34 L1466.45 1296.02 L1469.95 1297.72 L1473.44 1299.43 L1476.92 1301.16 L1480.4 1302.91 L1483.87 1304.67 L1487.32 1306.44 L1490.77 1308.24 L1494.21 1310.05 L1497.64 1311.87 L1501.07 1313.71 L1504.48 1315.57 L1507.89 1317.44 L1511.28 1319.32 L1514.67 1321.23 L1518.05 1323.14 L1521.42 1325.08 L1524.78 1327.02 L1528.13 1328.99 L1531.48 1330.96 L1534.81 1332.96 L1538.14 1334.96 L1541.45 1336.99 L1544.76 1339.03 L1548.06 1341.08 L1551.34 1343.15 L1554.62 1345.23 L1557.89 1347.32 L1561.15 1349.44 L1564.4 1351.56 L1567.64 1353.7 L1570.87 1355.86 L1574.1 1358.03 L1577.31 1360.21 L1580.51 1362.41 L1583.71 1364.62 L1586.89 1366.85 L1590.06 1369.09 L1593.23 1371.35 L1596.38 1373.62 L1599.53 1375.9 L1602.66 1378.2 L1605.79 1380.51 L1608.9 1382.84 L1612.01 1385.18 L1615.1 1387.53 L1618.19 1389.89 L1621.27 1392.27 L1624.34 1394.66 L1627.39 1397.06 L1630.44 1399.48 L1633.49 1401.9 L1636.52 1404.34 L1639.54 1406.79 L1642.56 1409.24 L1645.57 1411.71 L1648.56 1414.19 L1651.55 1416.68 L1654.54 1419.18 L1657.51 1421.69 L1660.48 1424.21 L1663.44 1426.74 L1666.39 1429.28 L1669.33 1431.82 L1672.26 1434.38 L1675.19 1436.94 L1678.12 1439.5 L1681.04 1442.08 L1683.95 1444.65 L1686.87 1447.23 L1689.78 1449.81 L1692.69 1452.39 L1695.6 1454.96 L1698.52 1457.54 L1701.44 1460.11 L1704.36 1462.67 L1707.28 1465.23 L1710.21 1467.79 L1713.15 1470.33 L1716.09 1472.86 L1719.05 1475.39 L1722.01 1477.9 L1724.99 1480.39 L1727.97 1482.88 L1730.97 1485.34 L1733.98 1487.79 L1737.01 1490.22 L1740.05 1492.64 L1743.11 1495.03 L1746.18 1497.4 L1749.28 1499.74 L1752.39 1502.07 L1755.52 1504.37 L1758.67 1506.64 L1761.84 1508.89 L1765.03 1511.12 L1768.23 1513.33 L1771.45 1515.51 L1774.69 1517.66 L1777.94 1519.79 L1781.21 1521.9 L1784.5 1523.98 L1787.8 1526.04 L1791.12 1528.07 L1794.46 1530.07 L1797.81 1532.05 L1801.18 1534.01 L1804.56 1535.94 L1807.95 1537.84 L1811.37 1539.72 L1814.79 1541.57 L1818.23 1543.39 L1821.69 1545.19 L1825.16 1546.96 L1828.64 1548.7 L1832.14 1550.42 L1835.65 1552.11 L1839.17 1553.77 L1842.71 1555.41 L1846.26 1557.01 L1849.82 1558.59 L1853.39 1560.15 L1856.98 1561.67 L1860.58 1563.16 L1864.19 1564.63 L1867.81 1566.07 L1871.45 1567.48 L1875.09 1568.86 L1878.75 1570.21 L1882.41 1571.53 L1886.09 1572.83 L1889.78 1574.09 L1893.47 1575.32 L1897.18 1576.53 L1900.9 1577.7 L1904.63 1578.84 L1908.36 1579.96 L1912.11 1581.04 L1915.86 1582.09 L1919.62 1583.1 L1923.39 1584.09 L1927.17 1585.04 L1930.95 1585.96 L1934.74 1586.84 L1938.54 1587.7 L1942.35 1588.51 L1946.16 1589.3 L1949.98 1590.04 L1953.8 1590.75 L1957.63 1591.43 L1961.46 1592.07 L1965.3 1592.67 L1969.14 1593.24 L1972.99 1593.77 L1976.84 1594.26 L1980.7 1594.72 L1984.56 1595.13 L1988.42 1595.51 L1992.28 1595.85 L1996.15 1596.15 L2000.02 1596.41 L2003.89 1596.63 L2007.77 1596.8 L2011.64 1596.94 L2015.52 1597.04 L2019.39 1597.09 L2023.27 1597.1 L2027.15 1597.07 L2031.03 1597 L2034.91 1596.89 L2038.78 1596.73 L2042.66 1596.52 L2046.54 1596.28 L2050.41 1595.98 L2054.28 1595.65 L2058.16 1595.27 L2062.02 1594.84 L2065.89 1594.37 L2069.75 1593.85 L2073.62 1593.28 L2077.47 1592.67 L2081.33 1592 L2085.18 1591.29 L2089.02 1590.54 L2092.86 1589.73 L2096.7 1588.88 L2100.53 1587.97" fill="none" stroke="#fe0000" stroke-width="11.9" stroke-linejoin="round"/>
</g>
<line x1="471.6" y1="1544" x2="471.6" y2="1216" stroke="#000" stroke-width="6.9" />
<path d="M471.6 1186 L487.1 1226.7 L471.6 1223.04 L456.1 1226.7 Z" fill="#000"/>
<line x1="847.6" y1="1428" x2="847.6" y2="1217" stroke="#000" stroke-width="6.9" />
<path d="M847.6 1187 L863.1 1227.7 L847.6 1224.04 L832.1 1227.7 Z" fill="#000"/>
<line x1="1224.5" y1="1247" x2="1224.5" y2="1214" stroke="#000" stroke-width="6.9" />
<path d="M1224.5 1184 L1240 1224.7 L1224.5 1221.04 L1209 1224.7 Z" fill="#000"/>
<line x1="1598.5" y1="1372" x2="1598.5" y2="1215.6" stroke="#000" stroke-width="6.9" />
<path d="M1598.5 1185.6 L1614 1226.3 L1598.5 1222.64 L1583 1226.3 Z" fill="#000"/>
<line x1="1973.6" y1="1593" x2="1973.6" y2="1213.9" stroke="#000" stroke-width="6.9" />
<path d="M1973.6 1183.9 L1989.1 1224.6 L1973.6 1220.94 L1958.1 1224.6 Z" fill="#000"/>
<text transform="translate(472.7 1678) scale(0.93 1)" font-family="'Liberation Sans', sans-serif" font-size="53.5" fill="#262626" stroke="#262626" stroke-width="0.7" text-anchor="middle">0</text>
<text transform="translate(848.3 1678) scale(0.93 1)" font-family="'Liberation Sans', sans-serif" font-size="53.5" fill="#262626" stroke="#262626" stroke-width="0.7" text-anchor="middle">45</text>
<text transform="translate(1223.9 1678) scale(0.93 1)" font-family="'Liberation Sans', sans-serif" font-size="53.5" fill="#262626" stroke="#262626" stroke-width="0.7" text-anchor="middle">90</text>
<text transform="translate(1599.5 1678) scale(0.93 1)" font-family="'Liberation Sans', sans-serif" font-size="53.5" fill="#262626" stroke="#262626" stroke-width="0.7" text-anchor="middle">135</text>
<text transform="translate(1975.1 1678) scale(0.93 1)" font-family="'Liberation Sans', sans-serif" font-size="53.5" fill="#262626" stroke="#262626" stroke-width="0.7" text-anchor="middle">180</text>
<text transform="translate(326 1259.6) scale(0.93 1)" font-family="'Liberation Sans', sans-serif" font-size="53.5" fill="#262626" stroke="#262626" stroke-width="0.7" text-anchor="end">0</text>
<text transform="translate(326 1361.2) scale(0.93 1)" font-family="'Liberation Sans', sans-serif" font-size="53.5" fill="#262626" stroke="#262626" stroke-width="0.7" text-anchor="end">-50</text>
<text transform="translate(326 1462.7) scale(0.93 1)" font-family="'Liberation Sans', sans-serif" font-size="53.5" fill="#262626" stroke="#262626" stroke-width="0.7" text-anchor="end">-100</text>
<text transform="translate(326 1564.4) scale(0.93 1)" font-family="'Liberation Sans', sans-serif" font-size="53.5" fill="#262626" stroke="#262626" stroke-width="0.7" text-anchor="end">-150</text>
<g transform="translate(1223 1724.6) rotate(0)">
<text transform="translate(-55.61 16.09) scale(1.15 1)" font-family="'Liberation Serif', serif" font-style="italic" font-size="60.66" fill="#262626" text-anchor="start">ϕ</text>
<text transform="translate(-16.74 17.44) scale(0.91 1)" font-family="'Liberation Serif', serif" font-size="68.38" fill="#262626" text-anchor="start">(</text>
<text transform="translate(1.16 -5.55) scale(1.19 1)" font-family="'Liberation Serif', serif" font-size="56.14" fill="#262626" text-anchor="start">o</text>
<text transform="translate(35.99 17.44) scale(0.91 1)" font-family="'Liberation Serif', serif" font-size="68.38" fill="#262626" text-anchor="start">)</text>
</g>
<g transform="translate(191 1423.7) rotate(-90)">
<text transform="translate(-124.4 -0.77) scale(0.98 1)" font-family="'Liberation Serif', serif" font-style="italic" font-size="58.51" fill="#262626" text-anchor="start">ω</text>
<text transform="translate(-84.87 7.64) scale(1.09 1)" font-family="'Liberation Serif', serif" font-style="italic" font-size="39.76" fill="#262626" text-anchor="start">p</text>
<text transform="translate(-57.62 -0.3) scale(0.85 1)" font-family="'Liberation Serif', serif" font-size="67.16" fill="#262626" text-anchor="start">(</text>
<text transform="translate(-37.69 -1) scale(1.2 1)" font-family="'Liberation Serif', serif" font-size="57.73" fill="#262626" text-anchor="start">r</text>
<text transform="translate(-14.89 -0.29) scale(1.17 1)" font-family="'Liberation Serif', serif" font-size="60.54" fill="#262626" text-anchor="start">a</text>
<text transform="translate(15.32 -0.31) scale(1.09 1)" font-family="'Liberation Serif', serif" font-size="62.96" fill="#262626" text-anchor="start">d</text>
<text transform="translate(52.7 13.3) scale(0.94 1)" font-family="'Liberation Serif', serif" font-size="91.94" fill="#262626" text-anchor="start">/</text>
<text transform="translate(77.94 -0.29) scale(1.1 1)" font-family="'Liberation Serif', serif" font-size="60.92" fill="#262626" text-anchor="start">s</text>
<text transform="translate(104.82 -0.24) scale(0.86 1)" font-family="'Liberation Serif', serif" font-size="67.83" fill="#262626" text-anchor="start">)</text>
</g>
<!-- schematic -->
<text transform="translate(214.85 946.32) scale(1.02 1)" font-family="'Liberation Serif', serif" font-size="110.29" fill="#000" text-anchor="start">(c)</text>
<ellipse cx="471.5" cy="1043.5" rx="125.5" ry="41.5" transform="rotate(90 471.5 1043.5)" fill="#cccccc" stroke="#000" stroke-width="4"/>
<circle cx="471.5" cy="920" r="11.5" fill="#fe0000"/>
<ellipse cx="849" cy="1041.9" rx="125.5" ry="41.5" transform="rotate(-45 849 1041.9)" fill="#cccccc" stroke="#000" stroke-width="4"/>
<circle cx="936.33" cy="954.57" r="11.5" fill="#fe0000"/>
<ellipse cx="1218.5" cy="1039.8" rx="125.5" ry="41.5" transform="rotate(0 1218.5 1039.8)" fill="#cccccc" stroke="#000" stroke-width="4"/>
<circle cx="1342" cy="1039.8" r="11.5" fill="#fe0000"/>
<ellipse cx="1599.7" cy="1039" rx="125.5" ry="41.5" transform="rotate(45 1599.7 1039)" fill="#cccccc" stroke="#000" stroke-width="4"/>
<circle cx="1687.03" cy="1126.33" r="11.5" fill="#fe0000"/>
<ellipse cx="1977.8" cy="1036.3" rx="125.5" ry="41.5" transform="rotate(90 1977.8 1036.3)" fill="#cccccc" stroke="#000" stroke-width="4"/>
<circle cx="1977.8" cy="1159.8" r="11.5" fill="#fe0000"/>
<path d="M435.1 892.1 Q465.6 866.9 503.15 886.91" fill="none" stroke="#000" stroke-width="4.6"/>
<path d="M518.9 895.3 L491.93 891.69 L501.35 885.95 L500.86 874.92 Z" fill="#000"/>
<path d="M916.1 916.8 Q962.55 925.6 969.37 960.48" fill="none" stroke="#000" stroke-width="4.6"/>
<path d="M972.8 978 L958.58 954.8 L968.98 958.48 L977.23 951.15 Z" fill="#000"/>
<path d="M941.1 899.7 Q988.65 907.85 994.61 943" fill="none" stroke="#000" stroke-width="4.6"/>
<path d="M997.6 960.6 L983.97 937.05 L994.27 940.99 L1002.7 933.87 Z" fill="#000"/>
<path d="M1365.6 999.2 Q1394.6 1033 1372.09 1067.81" fill="none" stroke="#000" stroke-width="4.6"/>
<path d="M1362.4 1082.8 L1368.27 1056.23 L1373.2 1066.1 L1384.22 1066.54 Z" fill="#000"/>
<path d="M1510.1 889.2 Q1464 893.55 1455.66 932.25" fill="none" stroke="#000" stroke-width="4.6"/>
<path d="M1451.9 949.7 L1447.98 922.77 L1456.09 930.26 L1466.56 926.77 Z" fill="#000"/>
<path d="M1477.4 969.8 Q1484.75 920.8 1521.45 915.26" fill="none" stroke="#000" stroke-width="4.6"/>
<path d="M1539.1 912.6 L1515.3 925.8 L1519.43 915.57 L1512.47 907.01 Z" fill="#000"/>
<path d="M1941.1 892.1 Q1974.2 866.5 2009.38 886.48" fill="none" stroke="#000" stroke-width="4.6"/>
<path d="M2024.9 895.3 L1998.04 890.97 L2007.61 885.48 L2007.42 874.44 Z" fill="#000"/>
<text transform="translate(528.87 933.3) scale(0.98 1)" font-family="'Liberation Serif', serif" font-weight="bold" font-size="71.39" fill="#000" text-anchor="start">ω</text>
<text transform="translate(579.62 947) scale(0.97 1)" font-family="'Liberation Serif', serif" font-weight="bold" font-size="44.82" fill="#000" text-anchor="start">h</text>
<text transform="translate(938.97 1024.5) scale(0.98 1)" font-family="'Liberation Serif', serif" font-weight="bold" font-size="71.39" fill="#000" text-anchor="start">ω</text>
<text transform="translate(989.72 1038.2) scale(0.97 1)" font-family="'Liberation Serif', serif" font-weight="bold" font-size="44.82" fill="#000" text-anchor="start">h</text>
<text transform="translate(994.17 990.4) scale(0.98 1)" font-family="'Liberation Serif', serif" font-weight="bold" font-size="71.39" fill="#000" text-anchor="start">ω</text>
<text transform="translate(1045.44 1004) scale(0.97 1)" font-family="'Liberation Serif', serif" font-weight="bold" font-size="44.57" fill="#000" text-anchor="start">m</text>
<text transform="translate(1300.07 1116.2) scale(0.98 1)" font-family="'Liberation Serif', serif" font-weight="bold" font-size="71.39" fill="#000" text-anchor="start">ω</text>
<text transform="translate(1350.82 1129.9) scale(0.97 1)" font-family="'Liberation Serif', serif" font-weight="bold" font-size="44.82" fill="#000" text-anchor="start">h</text>
<text transform="translate(1553.97 927.5) scale(0.98 1)" font-family="'Liberation Serif', serif" font-weight="bold" font-size="71.39" fill="#000" text-anchor="start">ω</text>
<text transform="translate(1604.72 941.2) scale(0.97 1)" font-family="'Liberation Serif', serif" font-weight="bold" font-size="44.82" fill="#000" text-anchor="start">h</text>
<text transform="translate(1401.07 992.4) scale(0.98 1)" font-family="'Liberation Serif', serif" font-weight="bold" font-size="71.39" fill="#000" text-anchor="start">ω</text>
<text transform="translate(1452.34 1006) scale(0.97 1)" font-family="'Liberation Serif', serif" font-weight="bold" font-size="44.57" fill="#000" text-anchor="start">m</text>
<text transform="translate(2027.07 931.5) scale(0.98 1)" font-family="'Liberation Serif', serif" font-weight="bold" font-size="71.39" fill="#000" text-anchor="start">ω</text>
<text transform="translate(2077.82 945.2) scale(0.97 1)" font-family="'Liberation Serif', serif" font-weight="bold" font-size="44.82" fill="#000" text-anchor="start">h</text>
</svg>
</body></html>
